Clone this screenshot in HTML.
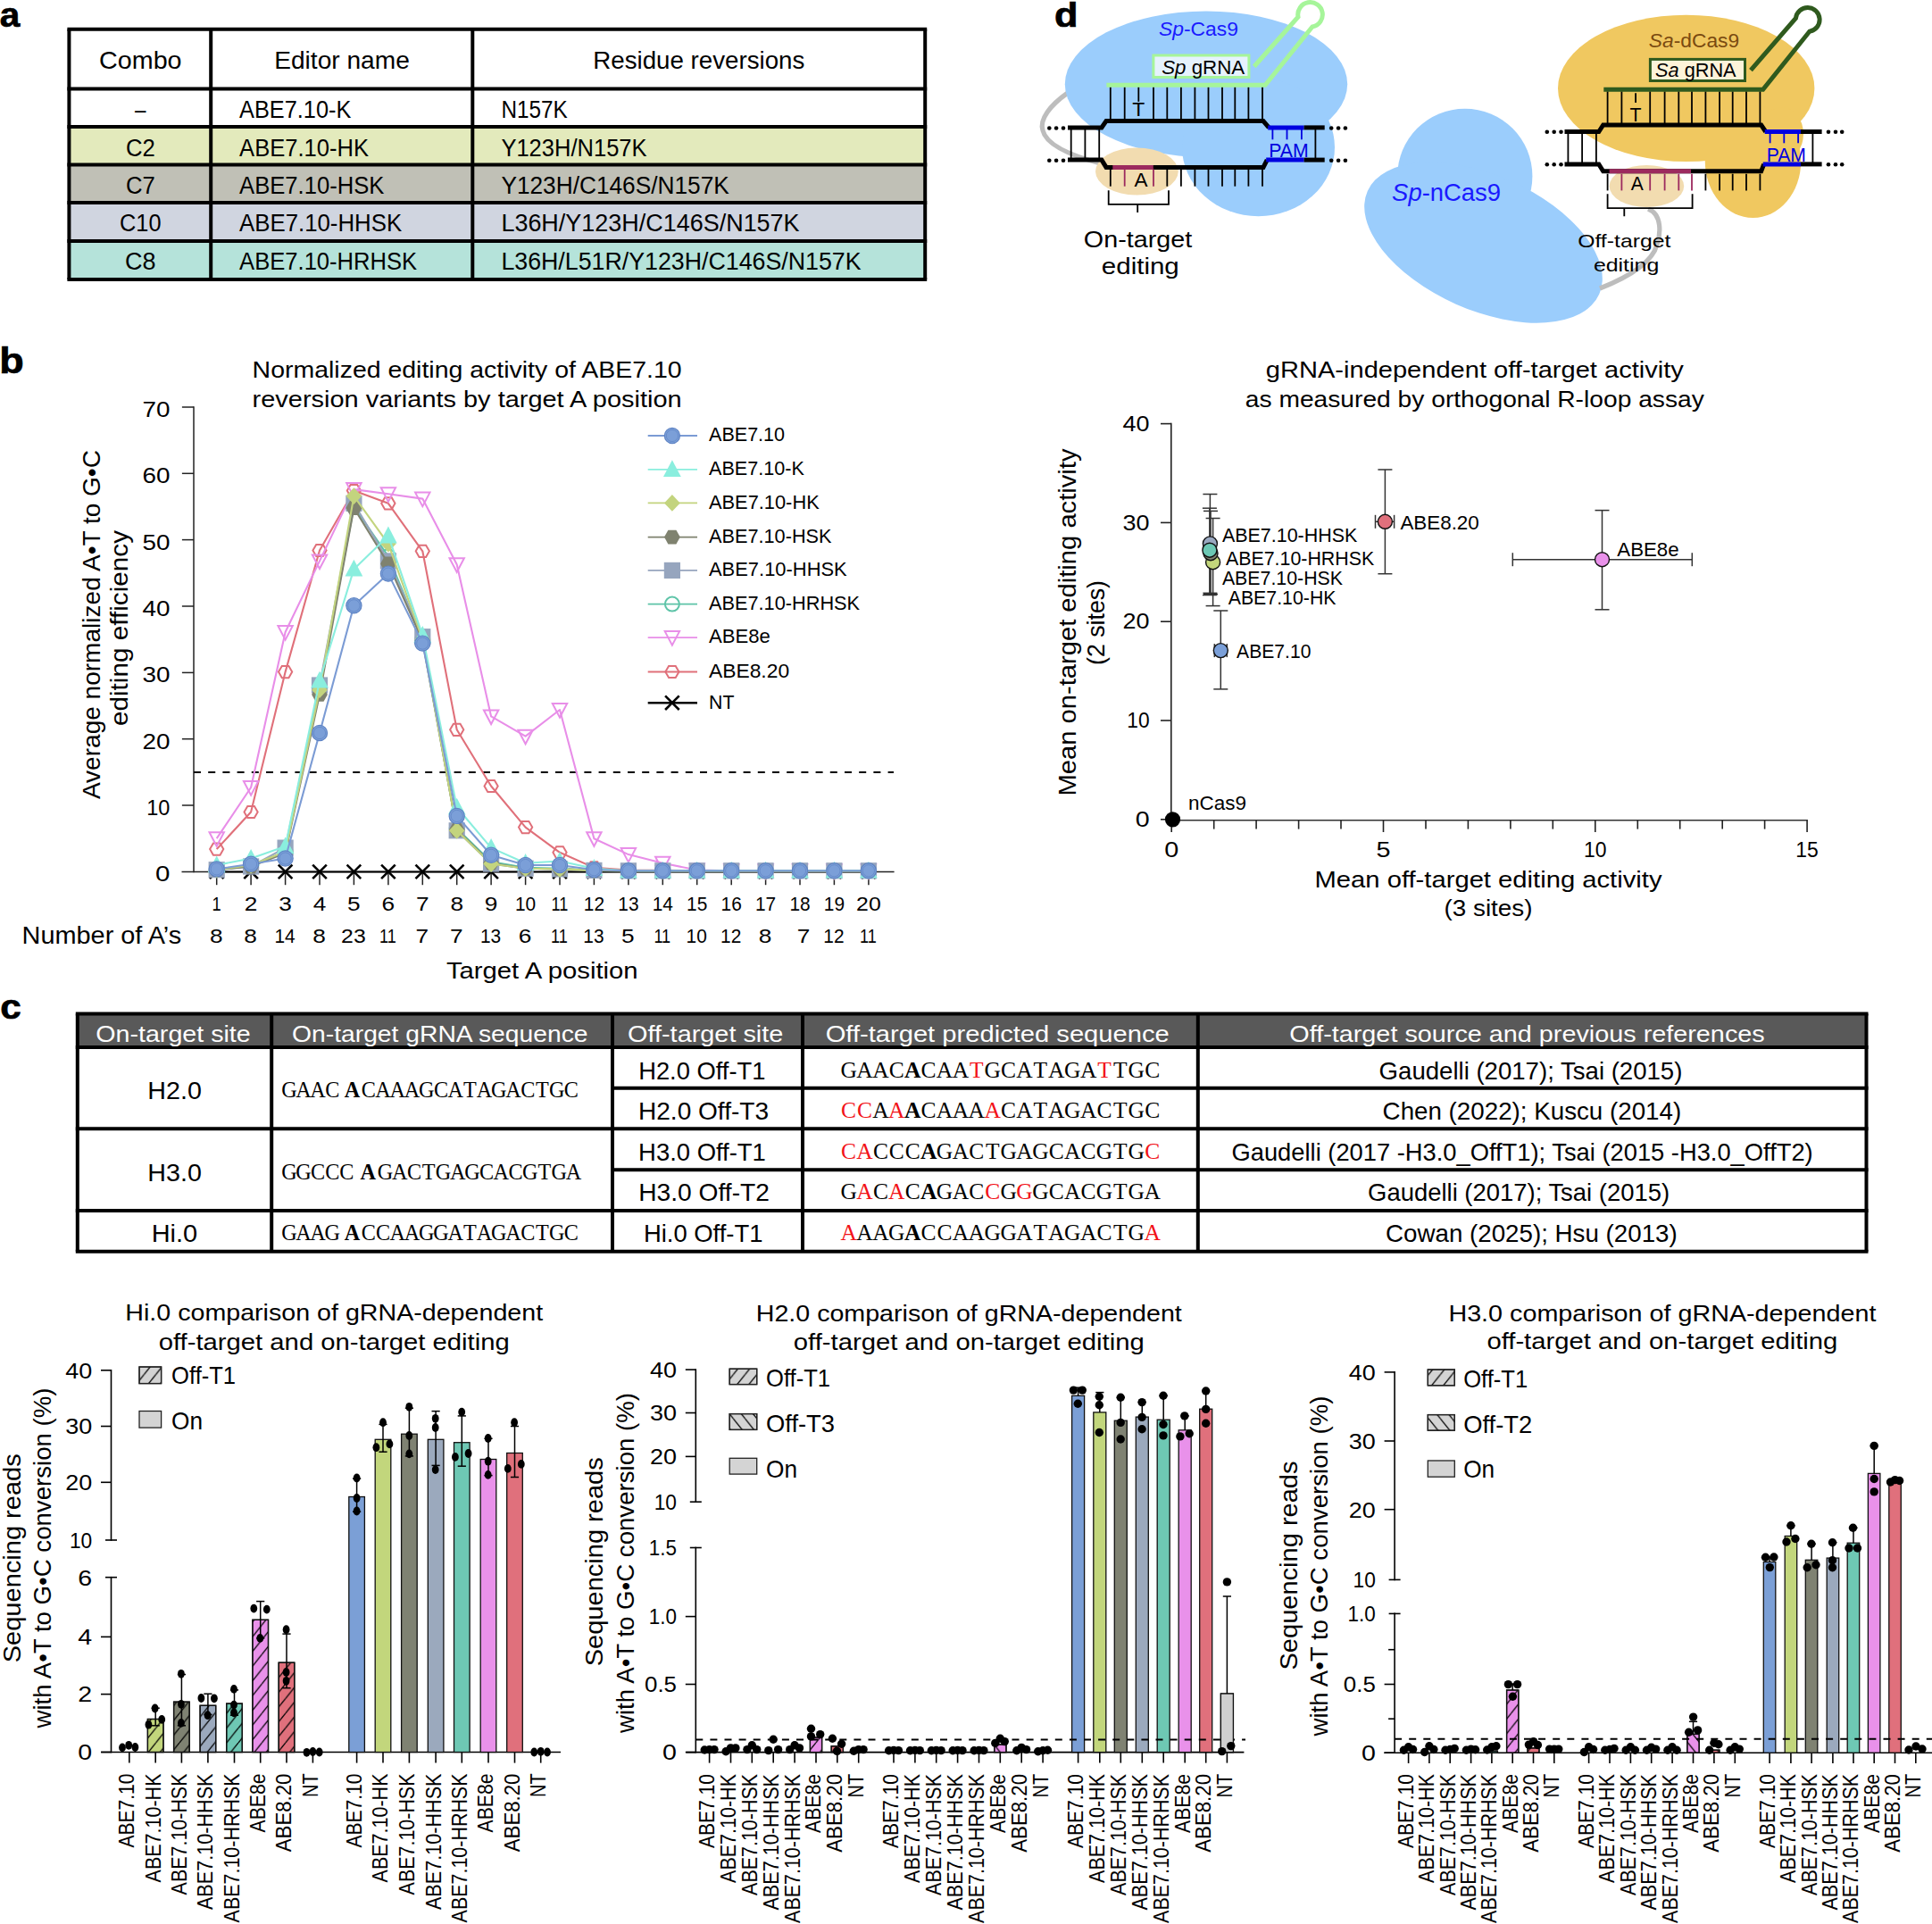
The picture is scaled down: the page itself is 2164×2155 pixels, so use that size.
<!DOCTYPE html>
<html><head><meta charset="utf-8"><title>Figure</title>
<style>html,body{margin:0;padding:0;background:#fff}svg{display:block}text{font-family:"Liberation Sans", sans-serif}</style>
</head><body>
<svg width="2164" height="2155" viewBox="0 0 2164 2155">
<rect width="2164" height="2155" fill="#fff"/>
<defs><pattern id="h1" width="13.2" height="16.5" patternUnits="userSpaceOnUse" x="3" y="5"><line x1="0.00" y1="16.50" x2="13.20" y2="0.00" stroke="#000" stroke-width="1.3"/><line x1="-13.20" y1="16.50" x2="0.00" y2="0.00" stroke="#000" stroke-width="1.3"/><line x1="13.20" y1="16.50" x2="26.40" y2="0.00" stroke="#000" stroke-width="1.3"/></pattern><pattern id="h2" width="13.2" height="16.5" patternUnits="userSpaceOnUse" x="3" y="5"><line x1="0.00" y1="0.00" x2="13.20" y2="16.50" stroke="#000" stroke-width="1.3"/><line x1="-13.20" y1="0.00" x2="0.00" y2="16.50" stroke="#000" stroke-width="1.3"/><line x1="13.20" y1="0.00" x2="26.40" y2="16.50" stroke="#000" stroke-width="1.3"/></pattern></defs>
<text x="-0.3" y="30.3" font-size="39" textLength="22.5" lengthAdjust="spacingAndGlyphs" font-weight="bold" stroke="#000" stroke-width="0.7">a</text>
<rect x="77.4" y="142.0" width="958.8" height="42.6" fill="#e3eabc" />
<rect x="77.4" y="184.6" width="958.8" height="42.4" fill="#c0c0b6" />
<rect x="77.4" y="227.0" width="958.8" height="43.1" fill="#d0d5e0" />
<rect x="77.4" y="270.1" width="958.8" height="42.9" fill="#b5e3da" />
<line x1="75.4" y1="32.8" x2="1038.2" y2="32.8" stroke="#000" stroke-width="4" />
<line x1="75.4" y1="99.4" x2="1038.2" y2="99.4" stroke="#000" stroke-width="4" />
<line x1="75.4" y1="142.0" x2="1038.2" y2="142.0" stroke="#000" stroke-width="4" />
<line x1="75.4" y1="184.6" x2="1038.2" y2="184.6" stroke="#000" stroke-width="4" />
<line x1="75.4" y1="227.0" x2="1038.2" y2="227.0" stroke="#000" stroke-width="4" />
<line x1="75.4" y1="270.1" x2="1038.2" y2="270.1" stroke="#000" stroke-width="4" />
<line x1="75.4" y1="313.0" x2="1038.2" y2="313.0" stroke="#000" stroke-width="4" />
<line x1="77.4" y1="32.8" x2="77.4" y2="313.0" stroke="#000" stroke-width="4" />
<line x1="236.2" y1="32.8" x2="236.2" y2="313.0" stroke="#000" stroke-width="4" />
<line x1="529.3" y1="32.8" x2="529.3" y2="313.0" stroke="#000" stroke-width="4" />
<line x1="1036.2" y1="32.8" x2="1036.2" y2="313.0" stroke="#000" stroke-width="4" />
<text x="157.3" y="76.8" font-size="27.5" text-anchor="middle" textLength="92.5" lengthAdjust="spacingAndGlyphs">Combo</text>
<text x="383.0" y="76.8" font-size="27.5" text-anchor="middle" textLength="151.6" lengthAdjust="spacingAndGlyphs">Editor name</text>
<text x="782.8" y="76.8" font-size="27.5" text-anchor="middle" textLength="237.0" lengthAdjust="spacingAndGlyphs">Residue reversions</text>
<text x="157.3" y="131.9" font-size="27" text-anchor="middle" textLength="12.5" lengthAdjust="spacingAndGlyphs">–</text>
<text x="268.1" y="131.9" font-size="27" textLength="125.2" lengthAdjust="spacingAndGlyphs">ABE7.10-K</text>
<text x="561.4" y="131.9" font-size="27" textLength="74.3" lengthAdjust="spacingAndGlyphs">N157K</text>
<text x="157.3" y="174.8" font-size="27" text-anchor="middle" textLength="32.8" lengthAdjust="spacingAndGlyphs">C2</text>
<text x="268.1" y="174.8" font-size="27" textLength="144.9" lengthAdjust="spacingAndGlyphs">ABE7.10-HK</text>
<text x="561.4" y="174.8" font-size="27" textLength="163.2" lengthAdjust="spacingAndGlyphs">Y123H/N157K</text>
<text x="157.3" y="216.8" font-size="27" text-anchor="middle" textLength="32.8" lengthAdjust="spacingAndGlyphs">C7</text>
<text x="268.1" y="216.8" font-size="27" textLength="162.3" lengthAdjust="spacingAndGlyphs">ABE7.10-HSK</text>
<text x="561.4" y="216.8" font-size="27" textLength="255.4" lengthAdjust="spacingAndGlyphs">Y123H/C146S/N157K</text>
<text x="157.3" y="259.4" font-size="27" text-anchor="middle" textLength="46.4" lengthAdjust="spacingAndGlyphs">C10</text>
<text x="268.1" y="259.4" font-size="27" textLength="182.0" lengthAdjust="spacingAndGlyphs">ABE7.10-HHSK</text>
<text x="561.4" y="259.4" font-size="27" textLength="334.2" lengthAdjust="spacingAndGlyphs">L36H/Y123H/C146S/N157K</text>
<text x="157.3" y="302.3" font-size="27" text-anchor="middle" textLength="34.5" lengthAdjust="spacingAndGlyphs">C8</text>
<text x="268.1" y="302.3" font-size="27" textLength="199.1" lengthAdjust="spacingAndGlyphs">ABE7.10-HRHSK</text>
<text x="561.4" y="302.3" font-size="27" textLength="403.2" lengthAdjust="spacingAndGlyphs">L36H/L51R/Y123H/C146S/N157K</text>
<text x="1181.0" y="30.0" font-size="39" textLength="26.5" lengthAdjust="spacingAndGlyphs" font-weight="bold" stroke="#000" stroke-width="0.7">d</text>
<path d="M1196,104 C1176,118 1164,134 1168,146 C1172,164 1205,176 1236,184" fill="none" stroke="#bdbdbd" stroke-width="5.2" />
<ellipse cx="1351.0" cy="94.2" rx="158.2" ry="81.8" fill="#9bcdfc"/>
<ellipse cx="1409.5" cy="165.0" rx="85.5" ry="77.2" fill="#9bcdfc"/>
<ellipse cx="1273.4" cy="192.0" rx="46.4" ry="26.4" fill="#f2dcb0"/>
<circle cx="1640.8" cy="197.3" r="75.6" fill="#9bcdfc"/>
<ellipse cx="1661.5" cy="271.7" rx="142.0" ry="75.5" fill="#9bcdfc" transform="rotate(24 1661.5 271.7)"/>
<path d="M1846,234 C1862,240 1860,262 1856,274 C1850,296 1820,312 1792,323" fill="none" stroke="#bdbdbd" stroke-width="5.2" />
<ellipse cx="1888.7" cy="98.9" rx="143.7" ry="82.2" fill="#f0c860"/>
<ellipse cx="1963.5" cy="181.0" rx="53.7" ry="63.0" fill="#f0c860"/>
<ellipse cx="1996.0" cy="150.0" rx="24.0" ry="30.0" fill="#f0c860"/>
<ellipse cx="1844.4" cy="208.5" rx="41.8" ry="23.6" fill="#f2dcb0"/>
<path d="M1196,142.9 L1233.9,142.9 L1239,135.6 L1415,135.6 L1421.2,142.9" fill="none" stroke="#000" stroke-width="5" stroke-linejoin="miter"/>
<line x1="1420.2" y1="142.9" x2="1460.6" y2="142.9" stroke="#0000e0" stroke-width="5" />
<line x1="1460.6" y1="142.9" x2="1483.7" y2="142.9" stroke="#000" stroke-width="5" />
<path d="M1196,179.1 L1233.9,179.1 L1239,187.4 L1415,187.4 L1419.2,179.1" fill="none" stroke="#000" stroke-width="5" stroke-linejoin="miter"/>
<line x1="1246.3" y1="187.4" x2="1291.8" y2="187.4" stroke="#9c2a5e" stroke-width="5" />
<line x1="1418.2" y1="179.1" x2="1460.6" y2="179.1" stroke="#0000e0" stroke-width="5" />
<line x1="1460.6" y1="179.1" x2="1483.7" y2="179.1" stroke="#000" stroke-width="5" />
<circle cx="1175.3" cy="143.5" r="2.3" fill="#000"/>
<circle cx="1175.3" cy="179.7" r="2.3" fill="#000"/>
<circle cx="1183.1" cy="143.5" r="2.3" fill="#000"/>
<circle cx="1183.1" cy="179.7" r="2.3" fill="#000"/>
<circle cx="1191.0" cy="143.5" r="2.3" fill="#000"/>
<circle cx="1191.0" cy="179.7" r="2.3" fill="#000"/>
<circle cx="1491.2" cy="143.5" r="2.3" fill="#000"/>
<circle cx="1491.2" cy="179.7" r="2.3" fill="#000"/>
<circle cx="1499.1" cy="143.5" r="2.3" fill="#000"/>
<circle cx="1499.1" cy="179.7" r="2.3" fill="#000"/>
<circle cx="1506.9" cy="143.5" r="2.3" fill="#000"/>
<circle cx="1506.9" cy="179.7" r="2.3" fill="#000"/>
<line x1="1199.7" y1="142.9" x2="1199.7" y2="179.1" stroke="#000" stroke-width="1.8" />
<line x1="1215.4" y1="142.9" x2="1215.4" y2="179.1" stroke="#000" stroke-width="1.8" />
<line x1="1231.2" y1="142.9" x2="1231.2" y2="179.1" stroke="#000" stroke-width="1.8" />
<line x1="1473.4" y1="142.9" x2="1473.4" y2="179.1" stroke="#000" stroke-width="1.8" />
<line x1="1243.8" y1="97.3" x2="1243.8" y2="134.0" stroke="#000" stroke-width="1.8" />
<line x1="1259.7" y1="97.3" x2="1259.7" y2="134.0" stroke="#000" stroke-width="1.8" />
<line x1="1275.3" y1="97.3" x2="1275.3" y2="113.9" stroke="#000" stroke-width="1.8" />
<line x1="1292.0" y1="97.3" x2="1292.0" y2="134.0" stroke="#000" stroke-width="1.8" />
<line x1="1307.3" y1="97.3" x2="1307.3" y2="134.0" stroke="#000" stroke-width="1.8" />
<line x1="1322.9" y1="97.3" x2="1322.9" y2="134.0" stroke="#000" stroke-width="1.8" />
<line x1="1338.4" y1="97.3" x2="1338.4" y2="134.0" stroke="#000" stroke-width="1.8" />
<line x1="1353.5" y1="97.3" x2="1353.5" y2="134.0" stroke="#000" stroke-width="1.8" />
<line x1="1369.0" y1="97.3" x2="1369.0" y2="134.0" stroke="#000" stroke-width="1.8" />
<line x1="1383.3" y1="97.3" x2="1383.3" y2="134.0" stroke="#000" stroke-width="1.8" />
<line x1="1398.4" y1="97.3" x2="1398.4" y2="134.0" stroke="#000" stroke-width="1.8" />
<line x1="1414.0" y1="97.3" x2="1414.0" y2="134.0" stroke="#000" stroke-width="1.8" />
<text x="1275.3" y="130.4" font-size="21.5" text-anchor="middle" textLength="14.0" lengthAdjust="spacingAndGlyphs">T</text>
<line x1="1243.8" y1="189.4" x2="1243.8" y2="208.7" stroke="#000" stroke-width="1.8" />
<line x1="1259.7" y1="189.4" x2="1259.7" y2="208.7" stroke="#9c2a5e" stroke-width="1.8" />
<line x1="1292.0" y1="189.4" x2="1292.0" y2="208.7" stroke="#9c2a5e" stroke-width="1.8" />
<line x1="1307.3" y1="189.4" x2="1307.3" y2="208.7" stroke="#000" stroke-width="1.8" />
<line x1="1322.9" y1="189.4" x2="1322.9" y2="208.7" stroke="#000" stroke-width="1.8" />
<line x1="1338.4" y1="189.4" x2="1338.4" y2="208.7" stroke="#000" stroke-width="1.8" />
<line x1="1353.5" y1="189.4" x2="1353.5" y2="208.7" stroke="#000" stroke-width="1.8" />
<line x1="1369.0" y1="189.4" x2="1369.0" y2="208.7" stroke="#000" stroke-width="1.8" />
<line x1="1383.3" y1="189.4" x2="1383.3" y2="208.7" stroke="#000" stroke-width="1.8" />
<line x1="1398.4" y1="189.4" x2="1398.4" y2="208.7" stroke="#000" stroke-width="1.8" />
<line x1="1414.0" y1="189.4" x2="1414.0" y2="208.7" stroke="#000" stroke-width="1.8" />
<text x="1278.0" y="209.1" font-size="21.5" text-anchor="middle" textLength="15.0" lengthAdjust="spacingAndGlyphs">A</text>
<path d="M1239.4,95.2 L1417.1,95.2 L1469.9,30 A13.8,13.8 0 1 0 1454.0,19.0 L1404.7,74.5" fill="none" stroke="#a6f59a" stroke-width="5" stroke-linejoin="miter"/>
<rect x="1291.9" y="62.0" width="107.0" height="24.5" fill="#e6f2fd" stroke="#a6f59a" stroke-width="3" />
<text x="1347.7" y="83.0" font-size="21.5" text-anchor="middle" textLength="93.0" lengthAdjust="spacingAndGlyphs"><tspan font-style="italic">Sp</tspan> gRNA</text>
<text x="1342.5" y="40.4" font-size="21.5" text-anchor="middle" textLength="89.0" lengthAdjust="spacingAndGlyphs" fill="#1a1aff"><tspan font-style="italic">Sp</tspan>-Cas9</text>
<line x1="1425.4" y1="145.0" x2="1425.4" y2="156.3" stroke="#0000e0" stroke-width="1.8" />
<line x1="1441.5" y1="145.0" x2="1441.5" y2="156.3" stroke="#0000e0" stroke-width="1.8" />
<line x1="1457.9" y1="145.0" x2="1457.9" y2="156.3" stroke="#0000e0" stroke-width="1.8" />
<text x="1443.5" y="176.0" font-size="21.5" text-anchor="middle" textLength="44.5" lengthAdjust="spacingAndGlyphs" fill="#0000e0">PAM</text>
<path d="M1241.7,213.3 L1241.7,228.8 L1309,228.8 L1309,213.3 M1274.2,228.8 L1274.2,238.1" fill="none" stroke="#000" stroke-width="1.8" />
<text x="1274.5" y="277.2" font-size="26" text-anchor="middle" textLength="121.3" lengthAdjust="spacingAndGlyphs">On-target</text>
<text x="1277.3" y="307.2" font-size="26" text-anchor="middle" textLength="87.0" lengthAdjust="spacingAndGlyphs">editing</text>
<text x="1620.1" y="225.1" font-size="27.7" text-anchor="middle" textLength="122.0" lengthAdjust="spacingAndGlyphs" fill="#1a1aff"><tspan font-style="italic">Sp</tspan>-nCas9</text>
<path d="M1752.5,147.5 L1790.8,147.5 L1795.7,140.0 L1972.7,140.0 L1977.7,147.5" fill="none" stroke="#000" stroke-width="5" stroke-linejoin="miter"/>
<line x1="1976.7" y1="147.5" x2="2017.0" y2="147.5" stroke="#0000e0" stroke-width="5" />
<line x1="2017.0" y1="147.5" x2="2040.6" y2="147.5" stroke="#000" stroke-width="5" />
<path d="M1752.5,183.9 L1790.8,183.9 L1795.7,191.8 L1972.7,191.8 L1975.7,183.9" fill="none" stroke="#000" stroke-width="5" stroke-linejoin="miter"/>
<line x1="1802.6" y1="191.8" x2="1894.0" y2="191.8" stroke="#9c2a5e" stroke-width="5" />
<line x1="1974.7" y1="183.9" x2="2017.0" y2="183.9" stroke="#0000e0" stroke-width="5" />
<line x1="2017.0" y1="183.9" x2="2040.6" y2="183.9" stroke="#000" stroke-width="5" />
<circle cx="1732.8" cy="147.8" r="2.3" fill="#000"/>
<circle cx="1732.8" cy="184.2" r="2.3" fill="#000"/>
<circle cx="1740.7" cy="147.8" r="2.3" fill="#000"/>
<circle cx="1740.7" cy="184.2" r="2.3" fill="#000"/>
<circle cx="1748.5" cy="147.8" r="2.3" fill="#000"/>
<circle cx="1748.5" cy="184.2" r="2.3" fill="#000"/>
<circle cx="2048.0" cy="147.8" r="2.3" fill="#000"/>
<circle cx="2048.0" cy="184.2" r="2.3" fill="#000"/>
<circle cx="2056.0" cy="147.8" r="2.3" fill="#000"/>
<circle cx="2056.0" cy="184.2" r="2.3" fill="#000"/>
<circle cx="2063.2" cy="147.8" r="2.3" fill="#000"/>
<circle cx="2063.2" cy="184.2" r="2.3" fill="#000"/>
<line x1="1756.4" y1="147.5" x2="1756.4" y2="183.9" stroke="#000" stroke-width="1.8" />
<line x1="1772.1" y1="147.5" x2="1772.1" y2="183.9" stroke="#000" stroke-width="1.8" />
<line x1="1787.9" y1="147.5" x2="1787.9" y2="183.9" stroke="#000" stroke-width="1.8" />
<line x1="2030.4" y1="147.5" x2="2030.4" y2="183.9" stroke="#000" stroke-width="1.8" />
<line x1="1800.6" y1="102.3" x2="1800.6" y2="138.5" stroke="#000" stroke-width="1.8" />
<line x1="1816.4" y1="102.3" x2="1816.4" y2="138.5" stroke="#000" stroke-width="1.8" />
<line x1="1832.1" y1="104.2" x2="1832.1" y2="115.0" stroke="#000" stroke-width="1.8" />
<line x1="1848.2" y1="102.3" x2="1848.2" y2="138.5" stroke="#000" stroke-width="1.8" />
<line x1="1864.6" y1="102.3" x2="1864.6" y2="138.5" stroke="#000" stroke-width="1.8" />
<line x1="1880.3" y1="102.3" x2="1880.3" y2="138.5" stroke="#000" stroke-width="1.8" />
<line x1="1895.0" y1="102.3" x2="1895.0" y2="138.5" stroke="#000" stroke-width="1.8" />
<line x1="1910.4" y1="102.3" x2="1910.4" y2="138.5" stroke="#000" stroke-width="1.8" />
<line x1="1926.1" y1="102.3" x2="1926.1" y2="138.5" stroke="#000" stroke-width="1.8" />
<line x1="1940.7" y1="102.3" x2="1940.7" y2="138.5" stroke="#000" stroke-width="1.8" />
<line x1="1956.0" y1="102.3" x2="1956.0" y2="138.5" stroke="#000" stroke-width="1.8" />
<line x1="1971.4" y1="102.3" x2="1971.4" y2="138.5" stroke="#000" stroke-width="1.8" />
<text x="1832.1" y="135.7" font-size="21.5" text-anchor="middle" textLength="13.0" lengthAdjust="spacingAndGlyphs">T</text>
<line x1="1800.6" y1="194.7" x2="1800.6" y2="213.4" stroke="#000" stroke-width="1.8" />
<line x1="1816.4" y1="194.7" x2="1816.4" y2="213.4" stroke="#9c2a5e" stroke-width="1.8" />
<line x1="1848.2" y1="194.7" x2="1848.2" y2="213.4" stroke="#9c2a5e" stroke-width="1.8" />
<line x1="1864.6" y1="194.7" x2="1864.6" y2="213.4" stroke="#9c2a5e" stroke-width="1.8" />
<line x1="1880.3" y1="194.7" x2="1880.3" y2="213.4" stroke="#9c2a5e" stroke-width="1.8" />
<line x1="1895.0" y1="194.7" x2="1895.0" y2="213.4" stroke="#9c2a5e" stroke-width="1.8" />
<line x1="1910.4" y1="194.7" x2="1910.4" y2="213.4" stroke="#000" stroke-width="1.8" />
<line x1="1926.1" y1="194.7" x2="1926.1" y2="213.4" stroke="#000" stroke-width="1.8" />
<line x1="1940.7" y1="194.7" x2="1940.7" y2="213.4" stroke="#000" stroke-width="1.8" />
<line x1="1956.0" y1="194.7" x2="1956.0" y2="213.4" stroke="#000" stroke-width="1.8" />
<line x1="1971.4" y1="194.7" x2="1971.4" y2="213.4" stroke="#000" stroke-width="1.8" />
<text x="1833.7" y="213.4" font-size="21.5" text-anchor="middle" textLength="14.0" lengthAdjust="spacingAndGlyphs">A</text>
<path d="M1796.3,100.3 L1974.7,100.3 L2026.8,35.2 A13.4,13.4 0 1 0 2011.4,20.5 L1961,78.7" fill="none" stroke="#2f5a1e" stroke-width="5" stroke-linejoin="miter"/>
<rect x="1848.4" y="66.4" width="106.1" height="24.1" fill="#fdf3d9" stroke="#2f5a1e" stroke-width="3" />
<text x="1899.3" y="86.4" font-size="21.5" text-anchor="middle" textLength="90.5" lengthAdjust="spacingAndGlyphs"><tspan font-style="italic">Sa</tspan> gRNA</text>
<text x="1897.5" y="52.7" font-size="21.5" text-anchor="middle" textLength="101.3" lengthAdjust="spacingAndGlyphs" fill="#7a4a10"><tspan font-style="italic">Sa</tspan>-dCas9</text>
<line x1="1982.6" y1="149.5" x2="1982.6" y2="160.3" stroke="#0000e0" stroke-width="1.8" />
<line x1="1998.3" y1="149.5" x2="1998.3" y2="160.3" stroke="#0000e0" stroke-width="1.8" />
<line x1="2014.1" y1="149.5" x2="2014.1" y2="160.3" stroke="#0000e0" stroke-width="1.8" />
<text x="2000.8" y="180.6" font-size="21.5" text-anchor="middle" textLength="44.2" lengthAdjust="spacingAndGlyphs" fill="#0000e0">PAM</text>
<path d="M1800.6,217.3 L1800.6,233.1 L1895.6,233.1 L1895.6,217.3 M1819.3,233.1 L1819.3,242.3" fill="none" stroke="#000" stroke-width="1.8" />
<text x="1819.3" y="277.3" font-size="20.7" text-anchor="middle" textLength="104.3" lengthAdjust="spacingAndGlyphs">Off-target</text>
<text x="1821.6" y="303.9" font-size="20.7" text-anchor="middle" textLength="73.4" lengthAdjust="spacingAndGlyphs">editing</text>
<text x="-0.8" y="417.7" font-size="40" textLength="27.5" lengthAdjust="spacingAndGlyphs" font-weight="bold" stroke="#000" stroke-width="0.7">b</text>
<text x="523.1" y="423.0" font-size="25.5" text-anchor="middle" textLength="481.0" lengthAdjust="spacingAndGlyphs">Normalized editing activity of ABE7.10</text>
<text x="523.1" y="455.6" font-size="25.5" text-anchor="middle" textLength="481.0" lengthAdjust="spacingAndGlyphs">reversion variants by target A position</text>
<line x1="217.0" y1="455.2" x2="217.0" y2="977.2" stroke="#222" stroke-width="1.5" />
<line x1="203.5" y1="976.4" x2="1001.6" y2="976.4" stroke="#222" stroke-width="1.5" />
<text x="190.4" y="987.4" font-size="24.7" text-anchor="end" textLength="16.4" lengthAdjust="spacingAndGlyphs">0</text>
<line x1="203.9" y1="902.0" x2="217.0" y2="902.0" stroke="#222" stroke-width="1.5" />
<text x="190.4" y="913.0" font-size="24.7" text-anchor="end" textLength="26.1" lengthAdjust="spacingAndGlyphs">10</text>
<line x1="203.9" y1="827.7" x2="217.0" y2="827.7" stroke="#222" stroke-width="1.5" />
<text x="190.4" y="838.7" font-size="24.7" text-anchor="end" textLength="31.0" lengthAdjust="spacingAndGlyphs">20</text>
<line x1="203.9" y1="753.4" x2="217.0" y2="753.4" stroke="#222" stroke-width="1.5" />
<text x="190.4" y="764.4" font-size="24.7" text-anchor="end" textLength="31.0" lengthAdjust="spacingAndGlyphs">30</text>
<line x1="203.9" y1="679.0" x2="217.0" y2="679.0" stroke="#222" stroke-width="1.5" />
<text x="190.4" y="690.0" font-size="24.7" text-anchor="end" textLength="31.0" lengthAdjust="spacingAndGlyphs">40</text>
<line x1="203.9" y1="604.6" x2="217.0" y2="604.6" stroke="#222" stroke-width="1.5" />
<text x="190.4" y="615.6" font-size="24.7" text-anchor="end" textLength="31.0" lengthAdjust="spacingAndGlyphs">50</text>
<line x1="203.9" y1="530.3" x2="217.0" y2="530.3" stroke="#222" stroke-width="1.5" />
<text x="190.4" y="541.3" font-size="24.7" text-anchor="end" textLength="31.0" lengthAdjust="spacingAndGlyphs">60</text>
<line x1="203.9" y1="456.0" x2="217.0" y2="456.0" stroke="#222" stroke-width="1.5" />
<text x="190.4" y="467.0" font-size="24.7" text-anchor="end" textLength="31.0" lengthAdjust="spacingAndGlyphs">70</text>
<line x1="242.7" y1="976.4" x2="242.7" y2="991.2" stroke="#222" stroke-width="1.5" />
<line x1="281.1" y1="976.4" x2="281.1" y2="991.2" stroke="#222" stroke-width="1.5" />
<line x1="319.6" y1="976.4" x2="319.6" y2="991.2" stroke="#222" stroke-width="1.5" />
<line x1="358.0" y1="976.4" x2="358.0" y2="991.2" stroke="#222" stroke-width="1.5" />
<line x1="396.4" y1="976.4" x2="396.4" y2="991.2" stroke="#222" stroke-width="1.5" />
<line x1="434.9" y1="976.4" x2="434.9" y2="991.2" stroke="#222" stroke-width="1.5" />
<line x1="473.3" y1="976.4" x2="473.3" y2="991.2" stroke="#222" stroke-width="1.5" />
<line x1="511.7" y1="976.4" x2="511.7" y2="991.2" stroke="#222" stroke-width="1.5" />
<line x1="550.1" y1="976.4" x2="550.1" y2="991.2" stroke="#222" stroke-width="1.5" />
<line x1="588.6" y1="976.4" x2="588.6" y2="991.2" stroke="#222" stroke-width="1.5" />
<line x1="627.0" y1="976.4" x2="627.0" y2="991.2" stroke="#222" stroke-width="1.5" />
<line x1="665.4" y1="976.4" x2="665.4" y2="991.2" stroke="#222" stroke-width="1.5" />
<line x1="703.9" y1="976.4" x2="703.9" y2="991.2" stroke="#222" stroke-width="1.5" />
<line x1="742.3" y1="976.4" x2="742.3" y2="991.2" stroke="#222" stroke-width="1.5" />
<line x1="780.7" y1="976.4" x2="780.7" y2="991.2" stroke="#222" stroke-width="1.5" />
<line x1="819.2" y1="976.4" x2="819.2" y2="991.2" stroke="#222" stroke-width="1.5" />
<line x1="857.6" y1="976.4" x2="857.6" y2="991.2" stroke="#222" stroke-width="1.5" />
<line x1="896.0" y1="976.4" x2="896.0" y2="991.2" stroke="#222" stroke-width="1.5" />
<line x1="934.4" y1="976.4" x2="934.4" y2="991.2" stroke="#222" stroke-width="1.5" />
<line x1="972.9" y1="976.4" x2="972.9" y2="991.2" stroke="#222" stroke-width="1.5" />
<line x1="217.0" y1="864.9" x2="1001.0" y2="864.9" stroke="#000" stroke-width="2.0" stroke-dasharray="8 8.2"/>
<polyline points="242.7,976.4 281.1,976.4 319.6,976.4 358.0,976.4 396.4,976.4 434.9,976.4 473.3,976.4 511.7,976.4 550.1,976.4 588.6,976.4 627.0,976.4 665.4,976.4 703.9,976.4 742.3,976.4 780.7,976.4 819.2,976.4 857.6,976.4 896.0,976.4 934.4,976.4 972.9,976.4" fill="none" stroke="#000" stroke-width="2.0" stroke-linejoin="round"/>
<line x1="234.9" y1="968.6" x2="250.5" y2="984.2" stroke="#000" stroke-width="2.6" />
<line x1="234.9" y1="984.2" x2="250.5" y2="968.6" stroke="#000" stroke-width="2.6" />
<line x1="273.3" y1="968.6" x2="288.9" y2="984.2" stroke="#000" stroke-width="2.6" />
<line x1="273.3" y1="984.2" x2="288.9" y2="968.6" stroke="#000" stroke-width="2.6" />
<line x1="311.8" y1="968.6" x2="327.4" y2="984.2" stroke="#000" stroke-width="2.6" />
<line x1="311.8" y1="984.2" x2="327.4" y2="968.6" stroke="#000" stroke-width="2.6" />
<line x1="350.2" y1="968.6" x2="365.8" y2="984.2" stroke="#000" stroke-width="2.6" />
<line x1="350.2" y1="984.2" x2="365.8" y2="968.6" stroke="#000" stroke-width="2.6" />
<line x1="388.6" y1="968.6" x2="404.2" y2="984.2" stroke="#000" stroke-width="2.6" />
<line x1="388.6" y1="984.2" x2="404.2" y2="968.6" stroke="#000" stroke-width="2.6" />
<line x1="427.1" y1="968.6" x2="442.7" y2="984.2" stroke="#000" stroke-width="2.6" />
<line x1="427.1" y1="984.2" x2="442.7" y2="968.6" stroke="#000" stroke-width="2.6" />
<line x1="465.5" y1="968.6" x2="481.1" y2="984.2" stroke="#000" stroke-width="2.6" />
<line x1="465.5" y1="984.2" x2="481.1" y2="968.6" stroke="#000" stroke-width="2.6" />
<line x1="503.9" y1="968.6" x2="519.5" y2="984.2" stroke="#000" stroke-width="2.6" />
<line x1="503.9" y1="984.2" x2="519.5" y2="968.6" stroke="#000" stroke-width="2.6" />
<line x1="542.3" y1="968.6" x2="557.9" y2="984.2" stroke="#000" stroke-width="2.6" />
<line x1="542.3" y1="984.2" x2="557.9" y2="968.6" stroke="#000" stroke-width="2.6" />
<line x1="580.8" y1="968.6" x2="596.4" y2="984.2" stroke="#000" stroke-width="2.6" />
<line x1="580.8" y1="984.2" x2="596.4" y2="968.6" stroke="#000" stroke-width="2.6" />
<line x1="619.2" y1="968.6" x2="634.8" y2="984.2" stroke="#000" stroke-width="2.6" />
<line x1="619.2" y1="984.2" x2="634.8" y2="968.6" stroke="#000" stroke-width="2.6" />
<line x1="657.6" y1="968.6" x2="673.2" y2="984.2" stroke="#000" stroke-width="2.6" />
<line x1="657.6" y1="984.2" x2="673.2" y2="968.6" stroke="#000" stroke-width="2.6" />
<line x1="696.1" y1="968.6" x2="711.7" y2="984.2" stroke="#000" stroke-width="2.6" />
<line x1="696.1" y1="984.2" x2="711.7" y2="968.6" stroke="#000" stroke-width="2.6" />
<line x1="734.5" y1="968.6" x2="750.1" y2="984.2" stroke="#000" stroke-width="2.6" />
<line x1="734.5" y1="984.2" x2="750.1" y2="968.6" stroke="#000" stroke-width="2.6" />
<line x1="772.9" y1="968.6" x2="788.5" y2="984.2" stroke="#000" stroke-width="2.6" />
<line x1="772.9" y1="984.2" x2="788.5" y2="968.6" stroke="#000" stroke-width="2.6" />
<line x1="811.4" y1="968.6" x2="827.0" y2="984.2" stroke="#000" stroke-width="2.6" />
<line x1="811.4" y1="984.2" x2="827.0" y2="968.6" stroke="#000" stroke-width="2.6" />
<line x1="849.8" y1="968.6" x2="865.4" y2="984.2" stroke="#000" stroke-width="2.6" />
<line x1="849.8" y1="984.2" x2="865.4" y2="968.6" stroke="#000" stroke-width="2.6" />
<line x1="888.2" y1="968.6" x2="903.8" y2="984.2" stroke="#000" stroke-width="2.6" />
<line x1="888.2" y1="984.2" x2="903.8" y2="968.6" stroke="#000" stroke-width="2.6" />
<line x1="926.6" y1="968.6" x2="942.2" y2="984.2" stroke="#000" stroke-width="2.6" />
<line x1="926.6" y1="984.2" x2="942.2" y2="968.6" stroke="#000" stroke-width="2.6" />
<line x1="965.1" y1="968.6" x2="980.7" y2="984.2" stroke="#000" stroke-width="2.6" />
<line x1="965.1" y1="984.2" x2="980.7" y2="968.6" stroke="#000" stroke-width="2.6" />
<polyline points="242.7,951.1 281.1,909.5 319.6,752.6 358.0,616.5 396.4,549.6 434.9,563.8 473.3,617.3 511.7,817.3 550.1,880.5 588.6,926.6 627.0,954.8 665.4,971.9 703.9,974.5 742.3,974.9 780.7,975.3 819.2,975.3 857.6,975.3 896.0,975.3 934.4,975.3 972.9,975.3" fill="none" stroke="#e0707a" stroke-width="2.1" stroke-linejoin="round"/>
<path d="M235.1,951.1 L238.9,944.5 L246.5,944.5 L250.3,951.1 L246.5,957.7 L238.9,957.7 Z" fill="none" stroke="#e0707a" stroke-width="2.0" />
<path d="M273.5,909.5 L277.3,902.9 L284.9,902.9 L288.7,909.5 L284.9,916.1 L277.3,916.1 Z" fill="none" stroke="#e0707a" stroke-width="2.0" />
<path d="M312.0,752.6 L315.8,746.0 L323.4,746.0 L327.2,752.6 L323.4,759.2 L315.8,759.2 Z" fill="none" stroke="#e0707a" stroke-width="2.0" />
<path d="M350.4,616.5 L354.2,609.9 L361.8,609.9 L365.6,616.5 L361.8,623.1 L354.2,623.1 Z" fill="none" stroke="#e0707a" stroke-width="2.0" />
<path d="M388.8,549.6 L392.6,543.0 L400.2,543.0 L404.0,549.6 L400.2,556.2 L392.6,556.2 Z" fill="none" stroke="#e0707a" stroke-width="2.0" />
<path d="M427.2,563.8 L431.1,557.2 L438.7,557.2 L442.5,563.8 L438.7,570.4 L431.1,570.4 Z" fill="none" stroke="#e0707a" stroke-width="2.0" />
<path d="M465.7,617.3 L469.5,610.7 L477.1,610.7 L480.9,617.3 L477.1,623.9 L469.5,623.9 Z" fill="none" stroke="#e0707a" stroke-width="2.0" />
<path d="M504.1,817.3 L507.9,810.7 L515.5,810.7 L519.3,817.3 L515.5,823.9 L507.9,823.9 Z" fill="none" stroke="#e0707a" stroke-width="2.0" />
<path d="M542.5,880.5 L546.3,873.9 L553.9,873.9 L557.7,880.5 L553.9,887.1 L546.3,887.1 Z" fill="none" stroke="#e0707a" stroke-width="2.0" />
<path d="M581.0,926.6 L584.8,920.0 L592.4,920.0 L596.2,926.6 L592.4,933.2 L584.8,933.2 Z" fill="none" stroke="#e0707a" stroke-width="2.0" />
<path d="M619.4,954.8 L623.2,948.2 L630.8,948.2 L634.6,954.8 L630.8,961.4 L623.2,961.4 Z" fill="none" stroke="#e0707a" stroke-width="2.0" />
<path d="M657.8,971.9 L661.6,965.3 L669.2,965.3 L673.0,971.9 L669.2,978.5 L661.6,978.5 Z" fill="none" stroke="#e0707a" stroke-width="2.0" />
<path d="M696.3,974.5 L700.1,967.9 L707.7,967.9 L711.5,974.5 L707.7,981.1 L700.1,981.1 Z" fill="none" stroke="#e0707a" stroke-width="2.0" />
<path d="M734.7,974.9 L738.5,968.3 L746.1,968.3 L749.9,974.9 L746.1,981.5 L738.5,981.5 Z" fill="none" stroke="#e0707a" stroke-width="2.0" />
<path d="M773.1,975.3 L776.9,968.7 L784.5,968.7 L788.3,975.3 L784.5,981.9 L776.9,981.9 Z" fill="none" stroke="#e0707a" stroke-width="2.0" />
<path d="M811.6,975.3 L815.4,968.7 L823.0,968.7 L826.8,975.3 L823.0,981.9 L815.4,981.9 Z" fill="none" stroke="#e0707a" stroke-width="2.0" />
<path d="M850.0,975.3 L853.8,968.7 L861.4,968.7 L865.2,975.3 L861.4,981.9 L853.8,981.9 Z" fill="none" stroke="#e0707a" stroke-width="2.0" />
<path d="M888.4,975.3 L892.2,968.7 L899.8,968.7 L903.6,975.3 L899.8,981.9 L892.2,981.9 Z" fill="none" stroke="#e0707a" stroke-width="2.0" />
<path d="M926.8,975.3 L930.6,968.7 L938.2,968.7 L942.0,975.3 L938.2,981.9 L930.6,981.9 Z" fill="none" stroke="#e0707a" stroke-width="2.0" />
<path d="M965.3,975.3 L969.1,968.7 L976.7,968.7 L980.5,975.3 L976.7,981.9 L969.1,981.9 Z" fill="none" stroke="#e0707a" stroke-width="2.0" />
<polyline points="242.7,939.2 281.1,882.0 319.6,708.0 358.0,628.4 396.4,548.1 434.9,553.3 473.3,558.6 511.7,632.2 550.1,802.4 588.6,824.7 627.0,795.0 665.4,939.2 703.9,957.1 742.3,966.7 780.7,974.5 819.2,975.3 857.6,975.3 896.0,975.3 934.4,975.3 972.9,975.3" fill="none" stroke="#e88ee8" stroke-width="2.1" stroke-linejoin="round"/>
<path d="M234.5,932.2 L250.9,932.2 L242.7,947.8 Z" fill="none" stroke="#e88ee8" stroke-width="2.0" />
<path d="M272.9,875.0 L289.3,875.0 L281.1,890.6 Z" fill="none" stroke="#e88ee8" stroke-width="2.0" />
<path d="M311.4,701.0 L327.8,701.0 L319.6,716.6 Z" fill="none" stroke="#e88ee8" stroke-width="2.0" />
<path d="M349.8,621.4 L366.2,621.4 L358.0,637.0 Z" fill="none" stroke="#e88ee8" stroke-width="2.0" />
<path d="M388.2,541.1 L404.6,541.1 L396.4,556.7 Z" fill="none" stroke="#e88ee8" stroke-width="2.0" />
<path d="M426.7,546.3 L443.1,546.3 L434.9,561.9 Z" fill="none" stroke="#e88ee8" stroke-width="2.0" />
<path d="M465.1,551.6 L481.5,551.6 L473.3,567.2 Z" fill="none" stroke="#e88ee8" stroke-width="2.0" />
<path d="M503.5,625.2 L519.9,625.2 L511.7,640.8 Z" fill="none" stroke="#e88ee8" stroke-width="2.0" />
<path d="M541.9,795.4 L558.3,795.4 L550.1,811.0 Z" fill="none" stroke="#e88ee8" stroke-width="2.0" />
<path d="M580.4,817.7 L596.8,817.7 L588.6,833.3 Z" fill="none" stroke="#e88ee8" stroke-width="2.0" />
<path d="M618.8,788.0 L635.2,788.0 L627.0,803.6 Z" fill="none" stroke="#e88ee8" stroke-width="2.0" />
<path d="M657.2,932.2 L673.6,932.2 L665.4,947.8 Z" fill="none" stroke="#e88ee8" stroke-width="2.0" />
<path d="M695.7,950.1 L712.1,950.1 L703.9,965.7 Z" fill="none" stroke="#e88ee8" stroke-width="2.0" />
<path d="M734.1,959.7 L750.5,959.7 L742.3,975.3 Z" fill="none" stroke="#e88ee8" stroke-width="2.0" />
<path d="M772.5,967.5 L788.9,967.5 L780.7,983.1 Z" fill="none" stroke="#e88ee8" stroke-width="2.0" />
<path d="M811.0,968.3 L827.4,968.3 L819.2,983.9 Z" fill="none" stroke="#e88ee8" stroke-width="2.0" />
<path d="M849.4,968.3 L865.8,968.3 L857.6,983.9 Z" fill="none" stroke="#e88ee8" stroke-width="2.0" />
<path d="M887.8,968.3 L904.2,968.3 L896.0,983.9 Z" fill="none" stroke="#e88ee8" stroke-width="2.0" />
<path d="M926.2,968.3 L942.6,968.3 L934.4,983.9 Z" fill="none" stroke="#e88ee8" stroke-width="2.0" />
<path d="M964.7,968.3 L981.1,968.3 L972.9,983.9 Z" fill="none" stroke="#e88ee8" stroke-width="2.0" />
<polyline points="242.7,974.2 281.1,969.7 319.6,954.1 358.0,771.9 396.4,567.5 434.9,623.2 473.3,716.2 511.7,928.1 550.1,965.2 588.6,971.9 627.0,972.7 665.4,974.9 703.9,975.3 742.3,975.3 780.7,975.3 819.2,975.3 857.6,975.3 896.0,975.3 934.4,975.3 972.9,975.3" fill="none" stroke="#5ec4a8" stroke-width="2.1" stroke-linejoin="round"/>
<circle cx="242.7" cy="974.2" r="8.0" fill="none" stroke="#5ec4a8" stroke-width="2.0"/>
<circle cx="281.1" cy="969.7" r="8.0" fill="none" stroke="#5ec4a8" stroke-width="2.0"/>
<circle cx="319.6" cy="954.1" r="8.0" fill="none" stroke="#5ec4a8" stroke-width="2.0"/>
<circle cx="358.0" cy="771.9" r="8.0" fill="none" stroke="#5ec4a8" stroke-width="2.0"/>
<circle cx="396.4" cy="567.5" r="8.0" fill="none" stroke="#5ec4a8" stroke-width="2.0"/>
<circle cx="434.9" cy="623.2" r="8.0" fill="none" stroke="#5ec4a8" stroke-width="2.0"/>
<circle cx="473.3" cy="716.2" r="8.0" fill="none" stroke="#5ec4a8" stroke-width="2.0"/>
<circle cx="511.7" cy="928.1" r="8.0" fill="none" stroke="#5ec4a8" stroke-width="2.0"/>
<circle cx="550.1" cy="965.2" r="8.0" fill="none" stroke="#5ec4a8" stroke-width="2.0"/>
<circle cx="588.6" cy="971.9" r="8.0" fill="none" stroke="#5ec4a8" stroke-width="2.0"/>
<circle cx="627.0" cy="972.7" r="8.0" fill="none" stroke="#5ec4a8" stroke-width="2.0"/>
<circle cx="665.4" cy="974.9" r="8.0" fill="none" stroke="#5ec4a8" stroke-width="2.0"/>
<circle cx="703.9" cy="975.3" r="8.0" fill="none" stroke="#5ec4a8" stroke-width="2.0"/>
<circle cx="742.3" cy="975.3" r="8.0" fill="none" stroke="#5ec4a8" stroke-width="2.0"/>
<circle cx="780.7" cy="975.3" r="8.0" fill="none" stroke="#5ec4a8" stroke-width="2.0"/>
<circle cx="819.2" cy="975.3" r="8.0" fill="none" stroke="#5ec4a8" stroke-width="2.0"/>
<circle cx="857.6" cy="975.3" r="8.0" fill="none" stroke="#5ec4a8" stroke-width="2.0"/>
<circle cx="896.0" cy="975.3" r="8.0" fill="none" stroke="#5ec4a8" stroke-width="2.0"/>
<circle cx="934.4" cy="975.3" r="8.0" fill="none" stroke="#5ec4a8" stroke-width="2.0"/>
<circle cx="972.9" cy="975.3" r="8.0" fill="none" stroke="#5ec4a8" stroke-width="2.0"/>
<polyline points="242.7,974.2 281.1,970.5 319.6,949.6 358.0,767.5 396.4,563.8 434.9,628.4 473.3,713.2 511.7,930.3 550.1,967.5 588.6,972.7 627.0,973.4 665.4,974.9 703.9,975.3 742.3,975.3 780.7,975.3 819.2,975.3 857.6,975.3 896.0,975.3 934.4,975.3 972.9,975.3" fill="none" stroke="#96a5be" stroke-width="2.1" stroke-linejoin="round"/>
<rect x="233.6" y="965.1" width="18.2" height="18.2" fill="#96a5be" />
<rect x="272.0" y="961.4" width="18.2" height="18.2" fill="#96a5be" />
<rect x="310.5" y="940.5" width="18.2" height="18.2" fill="#96a5be" />
<rect x="348.9" y="758.4" width="18.2" height="18.2" fill="#96a5be" />
<rect x="387.3" y="554.7" width="18.2" height="18.2" fill="#96a5be" />
<rect x="425.8" y="619.3" width="18.2" height="18.2" fill="#96a5be" />
<rect x="464.2" y="704.1" width="18.2" height="18.2" fill="#96a5be" />
<rect x="502.6" y="921.2" width="18.2" height="18.2" fill="#96a5be" />
<rect x="541.0" y="958.4" width="18.2" height="18.2" fill="#96a5be" />
<rect x="579.5" y="963.6" width="18.2" height="18.2" fill="#96a5be" />
<rect x="617.9" y="964.3" width="18.2" height="18.2" fill="#96a5be" />
<rect x="656.3" y="965.8" width="18.2" height="18.2" fill="#96a5be" />
<rect x="694.8" y="966.2" width="18.2" height="18.2" fill="#96a5be" />
<rect x="733.2" y="966.2" width="18.2" height="18.2" fill="#96a5be" />
<rect x="771.6" y="966.2" width="18.2" height="18.2" fill="#96a5be" />
<rect x="810.1" y="966.2" width="18.2" height="18.2" fill="#96a5be" />
<rect x="848.5" y="966.2" width="18.2" height="18.2" fill="#96a5be" />
<rect x="886.9" y="966.2" width="18.2" height="18.2" fill="#96a5be" />
<rect x="925.3" y="966.2" width="18.2" height="18.2" fill="#96a5be" />
<rect x="963.8" y="966.2" width="18.2" height="18.2" fill="#96a5be" />
<polyline points="242.7,974.2 281.1,970.5 319.6,955.6 358.0,777.9 396.4,569.0 434.9,631.4 473.3,717.7 511.7,929.6 550.1,966.7 588.6,972.7 627.0,973.4 665.4,974.9 703.9,975.3 742.3,975.3 780.7,975.3 819.2,975.3 857.6,975.3 896.0,975.3 934.4,975.3 972.9,975.3" fill="none" stroke="#7f826f" stroke-width="2.1" stroke-linejoin="round"/>
<path d="M233.8,974.2 L238.2,966.3 L247.2,966.3 L251.6,974.2 L247.2,982.1 L238.2,982.1 Z" fill="#7f826f" stroke="none" stroke-width="0" />
<path d="M272.2,970.5 L276.6,962.6 L285.6,962.6 L290.0,970.5 L285.6,978.4 L276.6,978.4 Z" fill="#7f826f" stroke="none" stroke-width="0" />
<path d="M310.7,955.6 L315.1,947.7 L324.1,947.7 L328.5,955.6 L324.1,963.5 L315.1,963.5 Z" fill="#7f826f" stroke="none" stroke-width="0" />
<path d="M349.1,777.9 L353.5,770.0 L362.5,770.0 L366.9,777.9 L362.5,785.8 L353.5,785.8 Z" fill="#7f826f" stroke="none" stroke-width="0" />
<path d="M387.5,569.0 L391.9,561.1 L400.9,561.1 L405.3,569.0 L400.9,576.9 L391.9,576.9 Z" fill="#7f826f" stroke="none" stroke-width="0" />
<path d="M426.0,631.4 L430.4,623.5 L439.4,623.5 L443.8,631.4 L439.4,639.3 L430.4,639.3 Z" fill="#7f826f" stroke="none" stroke-width="0" />
<path d="M464.4,717.7 L468.8,709.8 L477.8,709.8 L482.2,717.7 L477.8,725.6 L468.8,725.6 Z" fill="#7f826f" stroke="none" stroke-width="0" />
<path d="M502.8,929.6 L507.2,921.7 L516.2,921.7 L520.6,929.6 L516.2,937.5 L507.2,937.5 Z" fill="#7f826f" stroke="none" stroke-width="0" />
<path d="M541.2,966.7 L545.6,958.8 L554.6,958.8 L559.0,966.7 L554.6,974.6 L545.6,974.6 Z" fill="#7f826f" stroke="none" stroke-width="0" />
<path d="M579.7,972.7 L584.1,964.8 L593.1,964.8 L597.5,972.7 L593.1,980.6 L584.1,980.6 Z" fill="#7f826f" stroke="none" stroke-width="0" />
<path d="M618.1,973.4 L622.5,965.5 L631.5,965.5 L635.9,973.4 L631.5,981.3 L622.5,981.3 Z" fill="#7f826f" stroke="none" stroke-width="0" />
<path d="M656.5,974.9 L660.9,967.0 L669.9,967.0 L674.3,974.9 L669.9,982.8 L660.9,982.8 Z" fill="#7f826f" stroke="none" stroke-width="0" />
<path d="M695.0,975.3 L699.4,967.4 L708.4,967.4 L712.8,975.3 L708.4,983.2 L699.4,983.2 Z" fill="#7f826f" stroke="none" stroke-width="0" />
<path d="M733.4,975.3 L737.8,967.4 L746.8,967.4 L751.2,975.3 L746.8,983.2 L737.8,983.2 Z" fill="#7f826f" stroke="none" stroke-width="0" />
<path d="M771.8,975.3 L776.2,967.4 L785.2,967.4 L789.6,975.3 L785.2,983.2 L776.2,983.2 Z" fill="#7f826f" stroke="none" stroke-width="0" />
<path d="M810.3,975.3 L814.7,967.4 L823.7,967.4 L828.1,975.3 L823.7,983.2 L814.7,983.2 Z" fill="#7f826f" stroke="none" stroke-width="0" />
<path d="M848.7,975.3 L853.1,967.4 L862.1,967.4 L866.5,975.3 L862.1,983.2 L853.1,983.2 Z" fill="#7f826f" stroke="none" stroke-width="0" />
<path d="M887.1,975.3 L891.5,967.4 L900.5,967.4 L904.9,975.3 L900.5,983.2 L891.5,983.2 Z" fill="#7f826f" stroke="none" stroke-width="0" />
<path d="M925.5,975.3 L929.9,967.4 L938.9,967.4 L943.3,975.3 L938.9,983.2 L929.9,983.2 Z" fill="#7f826f" stroke="none" stroke-width="0" />
<path d="M964.0,975.3 L968.4,967.4 L977.4,967.4 L981.8,975.3 L977.4,983.2 L968.4,983.2 Z" fill="#7f826f" stroke="none" stroke-width="0" />
<polyline points="242.7,974.2 281.1,969.0 319.6,954.1 358.0,772.7 396.4,555.6 434.9,609.1 473.3,716.2 511.7,930.3 550.1,967.5 588.6,972.7 627.0,973.4 665.4,974.9 703.9,975.3 742.3,975.3 780.7,975.3 819.2,975.3 857.6,975.3 896.0,975.3 934.4,975.3 972.9,975.3" fill="none" stroke="#c3d47e" stroke-width="2.1" stroke-linejoin="round"/>
<path d="M233.8,974.2 L242.7,964.8 L251.6,974.2 L242.7,983.6 Z" fill="#c3d47e" stroke="none" stroke-width="0" />
<path d="M272.2,969.0 L281.1,959.6 L290.0,969.0 L281.1,978.4 Z" fill="#c3d47e" stroke="none" stroke-width="0" />
<path d="M310.7,954.1 L319.6,944.7 L328.5,954.1 L319.6,963.5 Z" fill="#c3d47e" stroke="none" stroke-width="0" />
<path d="M349.1,772.7 L358.0,763.3 L366.9,772.7 L358.0,782.1 Z" fill="#c3d47e" stroke="none" stroke-width="0" />
<path d="M387.5,555.6 L396.4,546.2 L405.3,555.6 L396.4,565.0 Z" fill="#c3d47e" stroke="none" stroke-width="0" />
<path d="M426.0,609.1 L434.9,599.7 L443.8,609.1 L434.9,618.5 Z" fill="#c3d47e" stroke="none" stroke-width="0" />
<path d="M464.4,716.2 L473.3,706.8 L482.2,716.2 L473.3,725.6 Z" fill="#c3d47e" stroke="none" stroke-width="0" />
<path d="M502.8,930.3 L511.7,920.9 L520.6,930.3 L511.7,939.7 Z" fill="#c3d47e" stroke="none" stroke-width="0" />
<path d="M541.2,967.5 L550.1,958.1 L559.0,967.5 L550.1,976.9 Z" fill="#c3d47e" stroke="none" stroke-width="0" />
<path d="M579.7,972.7 L588.6,963.3 L597.5,972.7 L588.6,982.1 Z" fill="#c3d47e" stroke="none" stroke-width="0" />
<path d="M618.1,973.4 L627.0,964.0 L635.9,973.4 L627.0,982.8 Z" fill="#c3d47e" stroke="none" stroke-width="0" />
<path d="M656.5,974.9 L665.4,965.5 L674.3,974.9 L665.4,984.3 Z" fill="#c3d47e" stroke="none" stroke-width="0" />
<path d="M695.0,975.3 L703.9,965.9 L712.8,975.3 L703.9,984.7 Z" fill="#c3d47e" stroke="none" stroke-width="0" />
<path d="M733.4,975.3 L742.3,965.9 L751.2,975.3 L742.3,984.7 Z" fill="#c3d47e" stroke="none" stroke-width="0" />
<path d="M771.8,975.3 L780.7,965.9 L789.6,975.3 L780.7,984.7 Z" fill="#c3d47e" stroke="none" stroke-width="0" />
<path d="M810.3,975.3 L819.2,965.9 L828.1,975.3 L819.2,984.7 Z" fill="#c3d47e" stroke="none" stroke-width="0" />
<path d="M848.7,975.3 L857.6,965.9 L866.5,975.3 L857.6,984.7 Z" fill="#c3d47e" stroke="none" stroke-width="0" />
<path d="M887.1,975.3 L896.0,965.9 L904.9,975.3 L896.0,984.7 Z" fill="#c3d47e" stroke="none" stroke-width="0" />
<path d="M925.5,975.3 L934.4,965.9 L943.3,975.3 L934.4,984.7 Z" fill="#c3d47e" stroke="none" stroke-width="0" />
<path d="M964.0,975.3 L972.9,965.9 L981.8,975.3 L972.9,984.7 Z" fill="#c3d47e" stroke="none" stroke-width="0" />
<polyline points="242.7,969.0 281.1,961.5 319.6,948.1 358.0,762.3 396.4,637.4 434.9,600.2 473.3,711.7 511.7,904.3 550.1,949.6 588.6,966.7 627.0,964.5 665.4,972.7 703.9,975.3 742.3,975.3 780.7,975.3 819.2,975.3 857.6,975.3 896.0,975.3 934.4,975.3 972.9,975.3" fill="none" stroke="#8aeede" stroke-width="2.1" stroke-linejoin="round"/>
<path d="M232.8,977.2 L252.6,977.2 L242.7,958.4 Z" fill="#8aeede" stroke="none" stroke-width="0" />
<path d="M271.2,969.7 L291.0,969.7 L281.1,950.9 Z" fill="#8aeede" stroke="none" stroke-width="0" />
<path d="M309.7,956.3 L329.5,956.3 L319.6,937.5 Z" fill="#8aeede" stroke="none" stroke-width="0" />
<path d="M348.1,770.5 L367.9,770.5 L358.0,751.7 Z" fill="#8aeede" stroke="none" stroke-width="0" />
<path d="M386.5,645.6 L406.3,645.6 L396.4,626.8 Z" fill="#8aeede" stroke="none" stroke-width="0" />
<path d="M425.0,608.4 L444.8,608.4 L434.9,589.6 Z" fill="#8aeede" stroke="none" stroke-width="0" />
<path d="M463.4,719.9 L483.2,719.9 L473.3,701.1 Z" fill="#8aeede" stroke="none" stroke-width="0" />
<path d="M501.8,912.5 L521.6,912.5 L511.7,893.7 Z" fill="#8aeede" stroke="none" stroke-width="0" />
<path d="M540.2,957.8 L560.0,957.8 L550.1,939.0 Z" fill="#8aeede" stroke="none" stroke-width="0" />
<path d="M578.7,974.9 L598.5,974.9 L588.6,956.1 Z" fill="#8aeede" stroke="none" stroke-width="0" />
<path d="M617.1,972.7 L636.9,972.7 L627.0,953.9 Z" fill="#8aeede" stroke="none" stroke-width="0" />
<path d="M655.5,980.9 L675.3,980.9 L665.4,962.1 Z" fill="#8aeede" stroke="none" stroke-width="0" />
<path d="M694.0,983.5 L713.8,983.5 L703.9,964.7 Z" fill="#8aeede" stroke="none" stroke-width="0" />
<path d="M732.4,983.5 L752.2,983.5 L742.3,964.7 Z" fill="#8aeede" stroke="none" stroke-width="0" />
<path d="M770.8,983.5 L790.6,983.5 L780.7,964.7 Z" fill="#8aeede" stroke="none" stroke-width="0" />
<path d="M809.3,983.5 L829.1,983.5 L819.2,964.7 Z" fill="#8aeede" stroke="none" stroke-width="0" />
<path d="M847.7,983.5 L867.5,983.5 L857.6,964.7 Z" fill="#8aeede" stroke="none" stroke-width="0" />
<path d="M886.1,983.5 L905.9,983.5 L896.0,964.7 Z" fill="#8aeede" stroke="none" stroke-width="0" />
<path d="M924.5,983.5 L944.3,983.5 L934.4,964.7 Z" fill="#8aeede" stroke="none" stroke-width="0" />
<path d="M963.0,983.5 L982.8,983.5 L972.9,964.7 Z" fill="#8aeede" stroke="none" stroke-width="0" />
<polyline points="242.7,973.4 281.1,967.8 319.6,961.5 358.0,821.0 396.4,678.3 434.9,642.6 473.3,720.6 511.7,913.9 550.1,957.8 588.6,969.0 627.0,969.0 665.4,974.2 703.9,975.3 742.3,975.3 780.7,975.3 819.2,975.3 857.6,975.3 896.0,975.3 934.4,975.3 972.9,975.3" fill="none" stroke="#7b9bd4" stroke-width="2.1" stroke-linejoin="round"/>
<circle cx="242.7" cy="973.4" r="8.6" fill="#7b9fd8" stroke="#5f84c4" stroke-width="1.2"/>
<circle cx="242.7" cy="973.4" r="6.6" fill="none" stroke="#5f84c4" stroke-width="0.7"/>
<circle cx="281.1" cy="967.8" r="8.6" fill="#7b9fd8" stroke="#5f84c4" stroke-width="1.2"/>
<circle cx="281.1" cy="967.8" r="6.6" fill="none" stroke="#5f84c4" stroke-width="0.7"/>
<circle cx="319.6" cy="961.5" r="8.6" fill="#7b9fd8" stroke="#5f84c4" stroke-width="1.2"/>
<circle cx="319.6" cy="961.5" r="6.6" fill="none" stroke="#5f84c4" stroke-width="0.7"/>
<circle cx="358.0" cy="821.0" r="8.6" fill="#7b9fd8" stroke="#5f84c4" stroke-width="1.2"/>
<circle cx="358.0" cy="821.0" r="6.6" fill="none" stroke="#5f84c4" stroke-width="0.7"/>
<circle cx="396.4" cy="678.3" r="8.6" fill="#7b9fd8" stroke="#5f84c4" stroke-width="1.2"/>
<circle cx="396.4" cy="678.3" r="6.6" fill="none" stroke="#5f84c4" stroke-width="0.7"/>
<circle cx="434.9" cy="642.6" r="8.6" fill="#7b9fd8" stroke="#5f84c4" stroke-width="1.2"/>
<circle cx="434.9" cy="642.6" r="6.6" fill="none" stroke="#5f84c4" stroke-width="0.7"/>
<circle cx="473.3" cy="720.6" r="8.6" fill="#7b9fd8" stroke="#5f84c4" stroke-width="1.2"/>
<circle cx="473.3" cy="720.6" r="6.6" fill="none" stroke="#5f84c4" stroke-width="0.7"/>
<circle cx="511.7" cy="913.9" r="8.6" fill="#7b9fd8" stroke="#5f84c4" stroke-width="1.2"/>
<circle cx="511.7" cy="913.9" r="6.6" fill="none" stroke="#5f84c4" stroke-width="0.7"/>
<circle cx="550.1" cy="957.8" r="8.6" fill="#7b9fd8" stroke="#5f84c4" stroke-width="1.2"/>
<circle cx="550.1" cy="957.8" r="6.6" fill="none" stroke="#5f84c4" stroke-width="0.7"/>
<circle cx="588.6" cy="969.0" r="8.6" fill="#7b9fd8" stroke="#5f84c4" stroke-width="1.2"/>
<circle cx="588.6" cy="969.0" r="6.6" fill="none" stroke="#5f84c4" stroke-width="0.7"/>
<circle cx="627.0" cy="969.0" r="8.6" fill="#7b9fd8" stroke="#5f84c4" stroke-width="1.2"/>
<circle cx="627.0" cy="969.0" r="6.6" fill="none" stroke="#5f84c4" stroke-width="0.7"/>
<circle cx="665.4" cy="974.2" r="8.6" fill="#7b9fd8" stroke="#5f84c4" stroke-width="1.2"/>
<circle cx="665.4" cy="974.2" r="6.6" fill="none" stroke="#5f84c4" stroke-width="0.7"/>
<circle cx="703.9" cy="975.3" r="8.6" fill="#7b9fd8" stroke="#5f84c4" stroke-width="1.2"/>
<circle cx="703.9" cy="975.3" r="6.6" fill="none" stroke="#5f84c4" stroke-width="0.7"/>
<circle cx="742.3" cy="975.3" r="8.6" fill="#7b9fd8" stroke="#5f84c4" stroke-width="1.2"/>
<circle cx="742.3" cy="975.3" r="6.6" fill="none" stroke="#5f84c4" stroke-width="0.7"/>
<circle cx="780.7" cy="975.3" r="8.6" fill="#7b9fd8" stroke="#5f84c4" stroke-width="1.2"/>
<circle cx="780.7" cy="975.3" r="6.6" fill="none" stroke="#5f84c4" stroke-width="0.7"/>
<circle cx="819.2" cy="975.3" r="8.6" fill="#7b9fd8" stroke="#5f84c4" stroke-width="1.2"/>
<circle cx="819.2" cy="975.3" r="6.6" fill="none" stroke="#5f84c4" stroke-width="0.7"/>
<circle cx="857.6" cy="975.3" r="8.6" fill="#7b9fd8" stroke="#5f84c4" stroke-width="1.2"/>
<circle cx="857.6" cy="975.3" r="6.6" fill="none" stroke="#5f84c4" stroke-width="0.7"/>
<circle cx="896.0" cy="975.3" r="8.6" fill="#7b9fd8" stroke="#5f84c4" stroke-width="1.2"/>
<circle cx="896.0" cy="975.3" r="6.6" fill="none" stroke="#5f84c4" stroke-width="0.7"/>
<circle cx="934.4" cy="975.3" r="8.6" fill="#7b9fd8" stroke="#5f84c4" stroke-width="1.2"/>
<circle cx="934.4" cy="975.3" r="6.6" fill="none" stroke="#5f84c4" stroke-width="0.7"/>
<circle cx="972.9" cy="975.3" r="8.6" fill="#7b9fd8" stroke="#5f84c4" stroke-width="1.2"/>
<circle cx="972.9" cy="975.3" r="6.6" fill="none" stroke="#5f84c4" stroke-width="0.7"/>
<text x="242.7" y="1019.8" font-size="22.6" text-anchor="middle" textLength="10.2" lengthAdjust="spacingAndGlyphs">1</text>
<text x="242.2" y="1056.4" font-size="22.6" text-anchor="middle" textLength="14.6" lengthAdjust="spacingAndGlyphs">8</text>
<text x="281.1" y="1019.8" font-size="22.6" text-anchor="middle" textLength="14.6" lengthAdjust="spacingAndGlyphs">2</text>
<text x="280.6" y="1056.4" font-size="22.6" text-anchor="middle" textLength="14.6" lengthAdjust="spacingAndGlyphs">8</text>
<text x="319.6" y="1019.8" font-size="22.6" text-anchor="middle" textLength="14.6" lengthAdjust="spacingAndGlyphs">3</text>
<text x="319.1" y="1056.4" font-size="22.6" text-anchor="middle" textLength="23.2" lengthAdjust="spacingAndGlyphs">14</text>
<text x="358.0" y="1019.8" font-size="22.6" text-anchor="middle" textLength="14.6" lengthAdjust="spacingAndGlyphs">4</text>
<text x="357.5" y="1056.4" font-size="22.6" text-anchor="middle" textLength="14.6" lengthAdjust="spacingAndGlyphs">8</text>
<text x="396.4" y="1019.8" font-size="22.6" text-anchor="middle" textLength="14.6" lengthAdjust="spacingAndGlyphs">5</text>
<text x="395.9" y="1056.4" font-size="22.6" text-anchor="middle" textLength="27.6" lengthAdjust="spacingAndGlyphs">23</text>
<text x="434.9" y="1019.8" font-size="22.6" text-anchor="middle" textLength="14.6" lengthAdjust="spacingAndGlyphs">6</text>
<text x="434.4" y="1056.4" font-size="22.6" text-anchor="middle" textLength="18.8" lengthAdjust="spacingAndGlyphs">11</text>
<text x="473.3" y="1019.8" font-size="22.6" text-anchor="middle" textLength="14.6" lengthAdjust="spacingAndGlyphs">7</text>
<text x="472.8" y="1056.4" font-size="22.6" text-anchor="middle" textLength="14.6" lengthAdjust="spacingAndGlyphs">7</text>
<text x="511.7" y="1019.8" font-size="22.6" text-anchor="middle" textLength="14.6" lengthAdjust="spacingAndGlyphs">8</text>
<text x="511.2" y="1056.4" font-size="22.6" text-anchor="middle" textLength="14.6" lengthAdjust="spacingAndGlyphs">7</text>
<text x="550.1" y="1019.8" font-size="22.6" text-anchor="middle" textLength="14.6" lengthAdjust="spacingAndGlyphs">9</text>
<text x="549.6" y="1056.4" font-size="22.6" text-anchor="middle" textLength="23.2" lengthAdjust="spacingAndGlyphs">13</text>
<text x="588.6" y="1019.8" font-size="22.6" text-anchor="middle" textLength="23.2" lengthAdjust="spacingAndGlyphs">10</text>
<text x="588.1" y="1056.4" font-size="22.6" text-anchor="middle" textLength="14.6" lengthAdjust="spacingAndGlyphs">6</text>
<text x="627.0" y="1019.8" font-size="22.6" text-anchor="middle" textLength="18.8" lengthAdjust="spacingAndGlyphs">11</text>
<text x="626.5" y="1056.4" font-size="22.6" text-anchor="middle" textLength="18.8" lengthAdjust="spacingAndGlyphs">11</text>
<text x="665.4" y="1019.8" font-size="22.6" text-anchor="middle" textLength="23.2" lengthAdjust="spacingAndGlyphs">12</text>
<text x="664.9" y="1056.4" font-size="22.6" text-anchor="middle" textLength="23.2" lengthAdjust="spacingAndGlyphs">13</text>
<text x="703.9" y="1019.8" font-size="22.6" text-anchor="middle" textLength="23.2" lengthAdjust="spacingAndGlyphs">13</text>
<text x="703.4" y="1056.4" font-size="22.6" text-anchor="middle" textLength="14.6" lengthAdjust="spacingAndGlyphs">5</text>
<text x="742.3" y="1019.8" font-size="22.6" text-anchor="middle" textLength="23.2" lengthAdjust="spacingAndGlyphs">14</text>
<text x="741.8" y="1056.4" font-size="22.6" text-anchor="middle" textLength="18.8" lengthAdjust="spacingAndGlyphs">11</text>
<text x="780.7" y="1019.8" font-size="22.6" text-anchor="middle" textLength="23.2" lengthAdjust="spacingAndGlyphs">15</text>
<text x="780.2" y="1056.4" font-size="22.6" text-anchor="middle" textLength="23.2" lengthAdjust="spacingAndGlyphs">10</text>
<text x="819.2" y="1019.8" font-size="22.6" text-anchor="middle" textLength="23.2" lengthAdjust="spacingAndGlyphs">16</text>
<text x="818.7" y="1056.4" font-size="22.6" text-anchor="middle" textLength="23.2" lengthAdjust="spacingAndGlyphs">12</text>
<text x="857.6" y="1019.8" font-size="22.6" text-anchor="middle" textLength="23.2" lengthAdjust="spacingAndGlyphs">17</text>
<text x="857.1" y="1056.4" font-size="22.6" text-anchor="middle" textLength="14.6" lengthAdjust="spacingAndGlyphs">8</text>
<text x="896.0" y="1019.8" font-size="22.6" text-anchor="middle" textLength="23.2" lengthAdjust="spacingAndGlyphs">18</text>
<text x="900.0" y="1056.4" font-size="22.6" text-anchor="middle" textLength="14.6" lengthAdjust="spacingAndGlyphs">7</text>
<text x="934.4" y="1019.8" font-size="22.6" text-anchor="middle" textLength="23.2" lengthAdjust="spacingAndGlyphs">19</text>
<text x="933.9" y="1056.4" font-size="22.6" text-anchor="middle" textLength="23.2" lengthAdjust="spacingAndGlyphs">12</text>
<text x="972.9" y="1019.8" font-size="22.6" text-anchor="middle" textLength="27.6" lengthAdjust="spacingAndGlyphs">20</text>
<text x="972.4" y="1056.4" font-size="22.6" text-anchor="middle" textLength="18.8" lengthAdjust="spacingAndGlyphs">11</text>
<text x="24.6" y="1056.6" font-size="26.8" textLength="178.6" lengthAdjust="spacingAndGlyphs">Number of A’s</text>
<text x="607.3" y="1096.0" font-size="25.5" text-anchor="middle" textLength="214.7" lengthAdjust="spacingAndGlyphs">Target A position</text>
<text x="111.8" y="699.6" font-size="28.5" text-anchor="middle" textLength="391.0" lengthAdjust="spacingAndGlyphs" transform="rotate(-90 111.8 699.6)">Average normalized A•T to G•C</text>
<text x="142.9" y="703.5" font-size="28.5" text-anchor="middle" textLength="219.0" lengthAdjust="spacingAndGlyphs" transform="rotate(-90 142.9 703.5)">editing efficiency</text>
<line x1="725.7" y1="488.0" x2="781.0" y2="488.0" stroke="#7b9bd4" stroke-width="1.9" />
<circle cx="752.9" cy="488.0" r="8.6" fill="#7b9fd8" stroke="#5f84c4" stroke-width="1.2"/>
<circle cx="752.9" cy="488.0" r="6.6" fill="none" stroke="#5f84c4" stroke-width="0.7"/>
<text x="794.0" y="494.3" font-size="21.6" textLength="85.1" lengthAdjust="spacingAndGlyphs">ABE7.10</text>
<line x1="725.7" y1="525.9" x2="781.0" y2="525.9" stroke="#8aeede" stroke-width="1.9" />
<path d="M743.0,534.1 L762.8,534.1 L752.9,515.3 Z" fill="#8aeede" stroke="none" stroke-width="0" />
<text x="794.0" y="532.2" font-size="21.6" textLength="106.8" lengthAdjust="spacingAndGlyphs">ABE7.10-K</text>
<line x1="725.7" y1="563.4" x2="781.0" y2="563.4" stroke="#c3d47e" stroke-width="1.9" />
<path d="M744.0,563.4 L752.9,554.0 L761.8,563.4 L752.9,572.8 Z" fill="#c3d47e" stroke="none" stroke-width="0" />
<text x="794.0" y="569.7" font-size="21.6" textLength="123.7" lengthAdjust="spacingAndGlyphs">ABE7.10-HK</text>
<line x1="725.7" y1="601.6" x2="781.0" y2="601.6" stroke="#7f826f" stroke-width="1.9" />
<path d="M744.0,601.6 L748.4,593.7 L757.4,593.7 L761.8,601.6 L757.4,609.5 L748.4,609.5 Z" fill="#7f826f" stroke="none" stroke-width="0" />
<text x="794.0" y="607.9" font-size="21.6" textLength="137.5" lengthAdjust="spacingAndGlyphs">ABE7.10-HSK</text>
<line x1="725.7" y1="638.9" x2="781.0" y2="638.9" stroke="#96a5be" stroke-width="1.9" />
<rect x="743.8" y="629.8" width="18.2" height="18.2" fill="#96a5be" />
<text x="794.0" y="645.2" font-size="21.6" textLength="154.7" lengthAdjust="spacingAndGlyphs">ABE7.10-HHSK</text>
<line x1="725.7" y1="676.6" x2="781.0" y2="676.6" stroke="#5ec4a8" stroke-width="1.9" />
<circle cx="752.9" cy="676.6" r="8.0" fill="none" stroke="#5ec4a8" stroke-width="2.0"/>
<text x="794.0" y="682.9" font-size="21.6" textLength="169.1" lengthAdjust="spacingAndGlyphs">ABE7.10-HRHSK</text>
<line x1="725.7" y1="714.1" x2="781.0" y2="714.1" stroke="#e88ee8" stroke-width="1.9" />
<path d="M744.7,707.1 L761.1,707.1 L752.9,722.7 Z" fill="none" stroke="#e88ee8" stroke-width="2.0" />
<text x="794.0" y="720.4" font-size="21.6" textLength="68.8" lengthAdjust="spacingAndGlyphs">ABE8e</text>
<line x1="725.7" y1="752.5" x2="781.0" y2="752.5" stroke="#e0707a" stroke-width="1.9" />
<path d="M745.3,752.5 L749.1,745.9 L756.7,745.9 L760.5,752.5 L756.7,759.1 L749.1,759.1 Z" fill="none" stroke="#e0707a" stroke-width="2.0" />
<text x="794.0" y="758.8" font-size="21.6" textLength="90.1" lengthAdjust="spacingAndGlyphs">ABE8.20</text>
<line x1="725.7" y1="787.2" x2="781.0" y2="787.2" stroke="#000" stroke-width="2.4" />
<line x1="745.1" y1="779.4" x2="760.7" y2="795.0" stroke="#000" stroke-width="2.6" />
<line x1="745.1" y1="795.0" x2="760.7" y2="779.4" stroke="#000" stroke-width="2.6" />
<text x="794.0" y="793.5" font-size="21.6" textLength="28.4" lengthAdjust="spacingAndGlyphs">NT</text>
<text x="1651.8" y="423.0" font-size="25.5" text-anchor="middle" textLength="468.0" lengthAdjust="spacingAndGlyphs">gRNA-independent off-target activity</text>
<text x="1651.8" y="456.1" font-size="25.5" text-anchor="middle" textLength="514.0" lengthAdjust="spacingAndGlyphs">as measured by orthogonal R-loop assay</text>
<line x1="1311.8" y1="473.8" x2="1311.8" y2="919.4" stroke="#222" stroke-width="1.6" />
<line x1="1300.0" y1="917.8" x2="1311.8" y2="917.8" stroke="#222" stroke-width="1.6" />
<line x1="1311.8" y1="918.7" x2="2024.9" y2="918.7" stroke="#333" stroke-width="1.6" />
<line x1="1300.0" y1="807.0" x2="1311.8" y2="807.0" stroke="#222" stroke-width="1.6" />
<line x1="1300.0" y1="696.2" x2="1311.8" y2="696.2" stroke="#222" stroke-width="1.6" />
<line x1="1300.0" y1="585.4" x2="1311.8" y2="585.4" stroke="#222" stroke-width="1.6" />
<line x1="1300.0" y1="474.6" x2="1311.8" y2="474.6" stroke="#222" stroke-width="1.6" />
<text x="1287.6" y="926.0" font-size="23.6" text-anchor="end" textLength="15.9" lengthAdjust="spacingAndGlyphs">0</text>
<text x="1287.6" y="815.2" font-size="23.6" text-anchor="end" textLength="25.3" lengthAdjust="spacingAndGlyphs">10</text>
<text x="1287.6" y="704.4" font-size="23.6" text-anchor="end" textLength="30.0" lengthAdjust="spacingAndGlyphs">20</text>
<text x="1287.6" y="593.6" font-size="23.6" text-anchor="end" textLength="30.0" lengthAdjust="spacingAndGlyphs">30</text>
<text x="1287.6" y="482.8" font-size="23.6" text-anchor="end" textLength="30.0" lengthAdjust="spacingAndGlyphs">40</text>
<line x1="1312.2" y1="918.7" x2="1312.2" y2="932.0" stroke="#222" stroke-width="1.6" />
<line x1="1359.7" y1="918.7" x2="1359.7" y2="928.6" stroke="#222" stroke-width="1.6" />
<line x1="1407.1" y1="918.7" x2="1407.1" y2="928.6" stroke="#222" stroke-width="1.6" />
<line x1="1454.6" y1="918.7" x2="1454.6" y2="928.6" stroke="#222" stroke-width="1.6" />
<line x1="1502.0" y1="918.7" x2="1502.0" y2="928.6" stroke="#222" stroke-width="1.6" />
<line x1="1549.5" y1="918.7" x2="1549.5" y2="932.0" stroke="#222" stroke-width="1.6" />
<line x1="1597.0" y1="918.7" x2="1597.0" y2="928.6" stroke="#222" stroke-width="1.6" />
<line x1="1644.4" y1="918.7" x2="1644.4" y2="928.6" stroke="#222" stroke-width="1.6" />
<line x1="1691.9" y1="918.7" x2="1691.9" y2="928.6" stroke="#222" stroke-width="1.6" />
<line x1="1739.3" y1="918.7" x2="1739.3" y2="928.6" stroke="#222" stroke-width="1.6" />
<line x1="1786.8" y1="918.7" x2="1786.8" y2="932.0" stroke="#222" stroke-width="1.6" />
<line x1="1834.3" y1="918.7" x2="1834.3" y2="928.6" stroke="#222" stroke-width="1.6" />
<line x1="1881.7" y1="918.7" x2="1881.7" y2="928.6" stroke="#222" stroke-width="1.6" />
<line x1="1929.2" y1="918.7" x2="1929.2" y2="928.6" stroke="#222" stroke-width="1.6" />
<line x1="1976.6" y1="918.7" x2="1976.6" y2="928.6" stroke="#222" stroke-width="1.6" />
<line x1="2024.1" y1="918.7" x2="2024.1" y2="932.0" stroke="#222" stroke-width="1.6" />
<text x="1312.2" y="960.0" font-size="24.4" text-anchor="middle" textLength="16.0" lengthAdjust="spacingAndGlyphs">0</text>
<text x="1549.5" y="960.0" font-size="24.4" text-anchor="middle" textLength="16.0" lengthAdjust="spacingAndGlyphs">5</text>
<text x="1786.8" y="960.0" font-size="24.4" text-anchor="middle" textLength="25.5" lengthAdjust="spacingAndGlyphs">10</text>
<text x="2024.1" y="960.0" font-size="24.4" text-anchor="middle" textLength="25.5" lengthAdjust="spacingAndGlyphs">15</text>
<text x="1667.0" y="994.0" font-size="25.5" text-anchor="middle" textLength="389.0" lengthAdjust="spacingAndGlyphs">Mean off-target editing activity</text>
<text x="1667.0" y="1025.6" font-size="25.5" text-anchor="middle" textLength="99.0" lengthAdjust="spacingAndGlyphs">(3 sites)</text>
<text x="1205.0" y="697.0" font-size="27.5" text-anchor="middle" textLength="389.0" lengthAdjust="spacingAndGlyphs" transform="rotate(-90 1205.0 697.0)">Mean on-target editing activity</text>
<text x="1237.3" y="697.5" font-size="27.5" text-anchor="middle" textLength="95.0" lengthAdjust="spacingAndGlyphs" transform="rotate(-90 1237.3 697.5)">(2 sites)</text>
<line x1="1355.4" y1="553.5" x2="1355.4" y2="664.3" stroke="#333" stroke-width="1.5" />
<line x1="1347.4" y1="553.5" x2="1363.4" y2="553.5" stroke="#333" stroke-width="1.5" />
<line x1="1347.4" y1="664.3" x2="1363.4" y2="664.3" stroke="#333" stroke-width="1.5" />
<line x1="1358.6" y1="580.5" x2="1358.6" y2="678.6" stroke="#333" stroke-width="1.5" />
<line x1="1350.6" y1="580.5" x2="1366.6" y2="580.5" stroke="#333" stroke-width="1.5" />
<line x1="1350.6" y1="678.6" x2="1366.6" y2="678.6" stroke="#333" stroke-width="1.5" />
<line x1="1356.0" y1="572.4" x2="1356.0" y2="665.7" stroke="#333" stroke-width="1.5" />
<line x1="1348.0" y1="572.4" x2="1364.0" y2="572.4" stroke="#333" stroke-width="1.5" />
<line x1="1348.0" y1="665.7" x2="1364.0" y2="665.7" stroke="#333" stroke-width="1.5" />
<line x1="1354.9" y1="569.2" x2="1354.9" y2="666.5" stroke="#333" stroke-width="1.5" />
<line x1="1346.9" y1="569.2" x2="1362.9" y2="569.2" stroke="#333" stroke-width="1.5" />
<line x1="1346.9" y1="666.5" x2="1362.9" y2="666.5" stroke="#333" stroke-width="1.5" />
<line x1="1367.3" y1="684.0" x2="1367.3" y2="771.9" stroke="#333" stroke-width="1.5" />
<line x1="1359.3" y1="684.0" x2="1375.3" y2="684.0" stroke="#333" stroke-width="1.5" />
<line x1="1359.3" y1="771.9" x2="1375.3" y2="771.9" stroke="#333" stroke-width="1.5" />
<line x1="1360.3" y1="728.6" x2="1374.3" y2="728.6" stroke="#333" stroke-width="1.5" />
<line x1="1360.3" y1="721.1" x2="1360.3" y2="736.1" stroke="#333" stroke-width="1.5" />
<line x1="1374.3" y1="721.1" x2="1374.3" y2="736.1" stroke="#333" stroke-width="1.5" />
<line x1="1551.4" y1="526.0" x2="1551.4" y2="642.7" stroke="#333" stroke-width="1.5" />
<line x1="1543.4" y1="526.0" x2="1559.4" y2="526.0" stroke="#333" stroke-width="1.5" />
<line x1="1543.4" y1="642.7" x2="1559.4" y2="642.7" stroke="#333" stroke-width="1.5" />
<line x1="1540.5" y1="584.3" x2="1561.6" y2="584.3" stroke="#333" stroke-width="1.5" />
<line x1="1540.5" y1="576.8" x2="1540.5" y2="591.8" stroke="#333" stroke-width="1.5" />
<line x1="1561.6" y1="576.8" x2="1561.6" y2="591.8" stroke="#333" stroke-width="1.5" />
<line x1="1794.5" y1="571.6" x2="1794.5" y2="682.8" stroke="#333" stroke-width="1.5" />
<line x1="1786.5" y1="571.6" x2="1802.5" y2="571.6" stroke="#333" stroke-width="1.5" />
<line x1="1786.5" y1="682.8" x2="1802.5" y2="682.8" stroke="#333" stroke-width="1.5" />
<line x1="1694.3" y1="626.7" x2="1895.3" y2="626.7" stroke="#333" stroke-width="1.5" />
<line x1="1694.3" y1="619.2" x2="1694.3" y2="634.2" stroke="#333" stroke-width="1.5" />
<line x1="1895.3" y1="619.2" x2="1895.3" y2="634.2" stroke="#333" stroke-width="1.5" />
<circle cx="1355.4" cy="608.9" r="8.0" fill="#9aa8c0" stroke="#111" stroke-width="1.4"/>
<circle cx="1358.6" cy="629.7" r="8.0" fill="#c3d67c" stroke="#111" stroke-width="1.4"/>
<circle cx="1356.0" cy="619.7" r="8.0" fill="#7f826f" stroke="#111" stroke-width="1.4"/>
<circle cx="1354.9" cy="616.2" r="8.0" fill="#6cc8b4" stroke="#111" stroke-width="1.4"/>
<circle cx="1367.3" cy="728.6" r="8.0" fill="#7a9fd8" stroke="#111" stroke-width="1.4"/>
<circle cx="1551.4" cy="584.3" r="8.0" fill="#e0707c" stroke="#111" stroke-width="1.4"/>
<circle cx="1794.5" cy="626.7" r="8.0" fill="#e991ea" stroke="#111" stroke-width="1.4"/>
<circle cx="1313.5" cy="917.8" r="8.6" fill="#000"/>
<text x="1368.9" y="606.5" font-size="22.4" textLength="151.4" lengthAdjust="spacingAndGlyphs">ABE7.10-HHSK</text>
<text x="1373.0" y="632.5" font-size="22.4" textLength="166.2" lengthAdjust="spacingAndGlyphs">ABE7.10-HRHSK</text>
<text x="1368.9" y="654.6" font-size="22.4" textLength="135.1" lengthAdjust="spacingAndGlyphs">ABE7.10-HSK</text>
<text x="1375.7" y="676.8" font-size="22.4" textLength="120.8" lengthAdjust="spacingAndGlyphs">ABE7.10-HK</text>
<text x="1385.1" y="736.5" font-size="22.4" textLength="83.3" lengthAdjust="spacingAndGlyphs">ABE7.10</text>
<text x="1568.4" y="592.5" font-size="22.4" textLength="88.4" lengthAdjust="spacingAndGlyphs">ABE8.20</text>
<text x="1811.3" y="622.5" font-size="22.4" textLength="69.3" lengthAdjust="spacingAndGlyphs">ABE8e</text>
<text x="1331.0" y="907.3" font-size="22.4" textLength="65.0" lengthAdjust="spacingAndGlyphs">nCas9</text>
<text x="0.3" y="1140.5" font-size="39" textLength="23.5" lengthAdjust="spacingAndGlyphs" font-weight="bold" stroke="#000" stroke-width="0.7">c</text>
<rect x="86.8" y="1135.4" width="2003.7" height="37.6" fill="#595959" />
<line x1="84.8" y1="1135.4" x2="2092.5" y2="1135.4" stroke="#000" stroke-width="4" />
<line x1="84.8" y1="1173.0" x2="2092.5" y2="1173.0" stroke="#000" stroke-width="4" />
<line x1="686.0" y1="1218.7" x2="2092.5" y2="1218.7" stroke="#000" stroke-width="4" />
<line x1="84.8" y1="1264.2" x2="2092.5" y2="1264.2" stroke="#000" stroke-width="4" />
<line x1="686.0" y1="1310.2" x2="2092.5" y2="1310.2" stroke="#000" stroke-width="4" />
<line x1="84.8" y1="1356.0" x2="2092.5" y2="1356.0" stroke="#000" stroke-width="4" />
<line x1="84.8" y1="1401.8" x2="2092.5" y2="1401.8" stroke="#000" stroke-width="4" />
<line x1="86.8" y1="1135.4" x2="86.8" y2="1401.8" stroke="#000" stroke-width="4" />
<line x1="304.2" y1="1135.4" x2="304.2" y2="1401.8" stroke="#000" stroke-width="4" />
<line x1="686.0" y1="1135.4" x2="686.0" y2="1401.8" stroke="#000" stroke-width="4" />
<line x1="899.0" y1="1135.4" x2="899.0" y2="1401.8" stroke="#000" stroke-width="4" />
<line x1="1341.8" y1="1135.4" x2="1341.8" y2="1401.8" stroke="#000" stroke-width="4" />
<line x1="2090.5" y1="1135.4" x2="2090.5" y2="1401.8" stroke="#000" stroke-width="4" />
<text x="194.0" y="1167.0" font-size="26" text-anchor="middle" textLength="173.5" lengthAdjust="spacingAndGlyphs" fill="#fff">On-target site</text>
<text x="492.8" y="1167.0" font-size="26" text-anchor="middle" textLength="331.5" lengthAdjust="spacingAndGlyphs" fill="#fff">On-target gRNA sequence</text>
<text x="790.2" y="1167.0" font-size="26" text-anchor="middle" textLength="174.3" lengthAdjust="spacingAndGlyphs" fill="#fff">Off-target site</text>
<text x="1117.2" y="1167.0" font-size="26" text-anchor="middle" textLength="385.1" lengthAdjust="spacingAndGlyphs" fill="#fff">Off-target predicted sequence</text>
<text x="1710.5" y="1167.0" font-size="26" text-anchor="middle" textLength="532.4" lengthAdjust="spacingAndGlyphs" fill="#fff">Off-target source and previous references</text>
<text x="195.6" y="1230.7" font-size="27.6" text-anchor="middle" textLength="60.5" lengthAdjust="spacingAndGlyphs">H2.0</text>
<text x="195.6" y="1322.6" font-size="27.6" text-anchor="middle" textLength="60.5" lengthAdjust="spacingAndGlyphs">H3.0</text>
<text x="195.4" y="1391.0" font-size="27.6" text-anchor="middle" textLength="51.5" lengthAdjust="spacingAndGlyphs">Hi.0</text>
<text x="323.9 340.1 356.1 372.2" y="1229.1" font-size="24.2" text-anchor="middle" style='font-family:"Liberation Serif", serif'>GAAC</text>
<text x="394.6" y="1229.1" font-size="24.2" text-anchor="middle" style='font-family:"Liberation Serif", serif'><tspan font-weight="bold">A</tspan></text>
<text x="412.9 429.1 445.3 461.5 477.8 494.0 510.2 526.4 542.6 558.8 575.0 591.3 607.5 623.7 639.9" y="1229.1" font-size="24.2" text-anchor="middle" style='font-family:"Liberation Serif", serif'>CAAAGCATAGACTGC</text>
<text x="323.9 340.1 356.1 372.2 388.4" y="1320.6" font-size="24.2" text-anchor="middle" style='font-family:"Liberation Serif", serif'>GGCCC</text>
<text x="412.2" y="1320.6" font-size="24.2" text-anchor="middle" style='font-family:"Liberation Serif", serif'><tspan font-weight="bold">A</tspan></text>
<text x="431.5 447.7 464.0 480.2 496.4 512.7 528.9 545.1 561.3 577.6 593.8 610.0 626.3 642.5" y="1320.6" font-size="24.2" text-anchor="middle" style='font-family:"Liberation Serif", serif'>GACTGAGCACGTGA</text>
<text x="323.9 340.1 356.1 372.2" y="1388.9" font-size="24.2" text-anchor="middle" style='font-family:"Liberation Serif", serif'>GAAG</text>
<text x="394.6" y="1388.9" font-size="24.2" text-anchor="middle" style='font-family:"Liberation Serif", serif'><tspan font-weight="bold">A</tspan></text>
<text x="412.9 429.1 445.3 461.5 477.8 494.0 510.2 526.4 542.6 558.8 575.0 591.3 607.5 623.7 639.9" y="1388.9" font-size="24.2" text-anchor="middle" style='font-family:"Liberation Serif", serif'>CCAAGGATAGACTGC</text>
<text x="786.3" y="1208.8" font-size="27.6" text-anchor="middle" textLength="142.2" lengthAdjust="spacingAndGlyphs">H2.0 Off-T1</text>
<text x="788.0" y="1254.3" font-size="27.6" text-anchor="middle" textLength="146.0" lengthAdjust="spacingAndGlyphs">H2.0 Off-T3</text>
<text x="786.5" y="1299.9" font-size="27.6" text-anchor="middle" textLength="142.8" lengthAdjust="spacingAndGlyphs">H3.0 Off-T1</text>
<text x="788.6" y="1345.4" font-size="27.6" text-anchor="middle" textLength="146.8" lengthAdjust="spacingAndGlyphs">H3.0 Off-T2</text>
<text x="787.7" y="1391.0" font-size="27.6" text-anchor="middle" textLength="133.6" lengthAdjust="spacingAndGlyphs">Hi.0 Off-T1</text>
<text x="950.6 968.5 986.4 1004.3 1022.2 1040.1 1058.0 1075.9 1093.8 1111.7 1129.6 1147.5 1165.4 1183.2 1201.2 1219.1 1237.0 1254.8 1272.8 1290.7" y="1206.5" font-size="25.5" text-anchor="middle" style='font-family:"Liberation Serif", serif'>GAAC<tspan font-weight="bold">A</tspan>CAA<tspan fill="#f21218">T</tspan>GCATAGA<tspan fill="#f21218">T</tspan>TGC</text>
<text x="950.6 968.5 986.4 1004.3 1022.2 1040.1 1058.0 1075.9 1093.8 1111.7 1129.6 1147.5 1165.4 1183.2 1201.2 1219.1 1237.0 1254.8 1272.8 1290.7" y="1251.7" font-size="25.5" text-anchor="middle" style='font-family:"Liberation Serif", serif'><tspan fill="#f21218">C</tspan><tspan fill="#f21218">C</tspan>A<tspan fill="#f21218">A</tspan><tspan font-weight="bold">A</tspan>CAAA<tspan fill="#f21218">A</tspan>CATAGACTGC</text>
<text x="950.6 968.5 986.4 1004.3 1022.2 1040.1 1058.0 1075.9 1093.8 1111.7 1129.6 1147.5 1165.4 1183.2 1201.2 1219.1 1237.0 1254.8 1272.8 1290.7" y="1297.6" font-size="25.5" text-anchor="middle" style='font-family:"Liberation Serif", serif'><tspan fill="#f21218">C</tspan><tspan fill="#f21218">A</tspan>CCC<tspan font-weight="bold">A</tspan>GACTGAGCACGTG<tspan fill="#f21218">C</tspan></text>
<text x="950.6 968.5 986.4 1004.3 1022.2 1040.1 1058.0 1075.9 1093.8 1111.7 1129.6 1147.5 1165.4 1183.2 1201.2 1219.1 1237.0 1254.8 1272.8 1290.7" y="1342.9" font-size="25.5" text-anchor="middle" style='font-family:"Liberation Serif", serif'>G<tspan fill="#f21218">A</tspan>C<tspan fill="#f21218">A</tspan>C<tspan font-weight="bold">A</tspan>GAC<tspan fill="#f21218">C</tspan>G<tspan fill="#f21218">G</tspan>GCACGTGA</text>
<text x="950.6 968.5 986.4 1004.3 1022.2 1040.1 1058.0 1075.9 1093.8 1111.7 1129.6 1147.5 1165.4 1183.2 1201.2 1219.1 1237.0 1254.8 1272.8 1290.7" y="1388.8" font-size="25.5" text-anchor="middle" style='font-family:"Liberation Serif", serif'><tspan fill="#f21218">A</tspan>AAG<tspan font-weight="bold">A</tspan>CCAAGGATAGACTG<tspan fill="#f21218">A</tspan></text>
<text x="1714.5" y="1208.8" font-size="27.6" text-anchor="middle" textLength="339.8" lengthAdjust="spacingAndGlyphs">Gaudelli (2017); Tsai (2015)</text>
<text x="1715.9" y="1254.3" font-size="27.6" text-anchor="middle" textLength="334.6" lengthAdjust="spacingAndGlyphs">Chen (2022); Kuscu (2014)</text>
<text x="1705.1" y="1299.9" font-size="27.6" text-anchor="middle" textLength="651.2" lengthAdjust="spacingAndGlyphs">Gaudelli (2017 -H3.0_OffT1); Tsai (2015 -H3.0_OffT2)</text>
<text x="1701.1" y="1345.4" font-size="27.6" text-anchor="middle" textLength="338.0" lengthAdjust="spacingAndGlyphs">Gaudelli (2017); Tsai (2015)</text>
<text x="1715.4" y="1391.0" font-size="27.6" text-anchor="middle" textLength="326.7" lengthAdjust="spacingAndGlyphs">Cowan (2025); Hsu (2013)</text>
<text x="374.2" y="1479.0" font-size="25.5" text-anchor="middle" textLength="467.8" lengthAdjust="spacingAndGlyphs">Hi.0 comparison of gRNA-dependent</text>
<text x="374.2" y="1511.7" font-size="25.5" text-anchor="middle" textLength="393.0" lengthAdjust="spacingAndGlyphs">off-target and on-target editing</text>
<text x="22.9" y="1745.3" font-size="27.5" text-anchor="middle" textLength="234.0" lengthAdjust="spacingAndGlyphs" transform="rotate(-90 22.9 1745.3)">Sequencing reads</text>
<text x="57.1" y="1745.0" font-size="27.5" text-anchor="middle" textLength="381.0" lengthAdjust="spacingAndGlyphs" transform="rotate(-90 57.1 1745.0)">with A•T to G•C conversion (%)</text>
<line x1="124.5" y1="1534.0" x2="124.5" y2="1725.8" stroke="#000" stroke-width="1.6" />
<line x1="113.0" y1="1534.8" x2="124.5" y2="1534.8" stroke="#000" stroke-width="1.6" />
<text x="103.2" y="1543.6" font-size="23.7" text-anchor="end" textLength="30.0" lengthAdjust="spacingAndGlyphs">40</text>
<line x1="113.0" y1="1597.5" x2="124.5" y2="1597.5" stroke="#000" stroke-width="1.6" />
<text x="103.2" y="1606.3" font-size="23.7" text-anchor="end" textLength="30.0" lengthAdjust="spacingAndGlyphs">30</text>
<line x1="113.0" y1="1660.3" x2="124.5" y2="1660.3" stroke="#000" stroke-width="1.6" />
<text x="103.2" y="1669.1" font-size="23.7" text-anchor="end" textLength="30.0" lengthAdjust="spacingAndGlyphs">20</text>
<line x1="118.0" y1="1725.0" x2="131.0" y2="1725.0" stroke="#000" stroke-width="1.6" />
<text x="103.2" y="1733.8" font-size="23.7" text-anchor="end" textLength="25.3" lengthAdjust="spacingAndGlyphs">10</text>
<line x1="124.5" y1="1765.9" x2="124.5" y2="1963.3" stroke="#000" stroke-width="1.6" />
<line x1="118.0" y1="1766.7" x2="131.0" y2="1766.7" stroke="#000" stroke-width="1.6" />
<text x="103.2" y="1775.5" font-size="23.7" text-anchor="end" textLength="15.9" lengthAdjust="spacingAndGlyphs">6</text>
<line x1="113.0" y1="1833.4" x2="124.5" y2="1833.4" stroke="#000" stroke-width="1.6" />
<text x="103.2" y="1842.2" font-size="23.7" text-anchor="end" textLength="15.9" lengthAdjust="spacingAndGlyphs">4</text>
<line x1="113.0" y1="1897.6" x2="124.5" y2="1897.6" stroke="#000" stroke-width="1.6" />
<text x="103.2" y="1906.4" font-size="23.7" text-anchor="end" textLength="15.9" lengthAdjust="spacingAndGlyphs">2</text>
<line x1="113.0" y1="1962.5" x2="124.5" y2="1962.5" stroke="#000" stroke-width="1.6" />
<text x="103.2" y="1971.3" font-size="23.7" text-anchor="end" textLength="15.9" lengthAdjust="spacingAndGlyphs">0</text>
<line x1="113.3" y1="1962.5" x2="628.0" y2="1962.5" stroke="#000" stroke-width="1.6" />
<line x1="144.8" y1="1962.5" x2="144.8" y2="1974.6" stroke="#000" stroke-width="1.6" />
<line x1="174.2" y1="1962.5" x2="174.2" y2="1974.6" stroke="#000" stroke-width="1.6" />
<line x1="203.4" y1="1962.5" x2="203.4" y2="1974.6" stroke="#000" stroke-width="1.6" />
<line x1="232.9" y1="1962.5" x2="232.9" y2="1974.6" stroke="#000" stroke-width="1.6" />
<line x1="262.5" y1="1962.5" x2="262.5" y2="1974.6" stroke="#000" stroke-width="1.6" />
<line x1="291.7" y1="1962.5" x2="291.7" y2="1974.6" stroke="#000" stroke-width="1.6" />
<line x1="321.0" y1="1962.5" x2="321.0" y2="1974.6" stroke="#000" stroke-width="1.6" />
<line x1="350.4" y1="1962.5" x2="350.4" y2="1974.6" stroke="#000" stroke-width="1.6" />
<line x1="399.6" y1="1962.5" x2="399.6" y2="1974.6" stroke="#000" stroke-width="1.6" />
<line x1="429.0" y1="1962.5" x2="429.0" y2="1974.6" stroke="#000" stroke-width="1.6" />
<line x1="458.4" y1="1962.5" x2="458.4" y2="1974.6" stroke="#000" stroke-width="1.6" />
<line x1="488.1" y1="1962.5" x2="488.1" y2="1974.6" stroke="#000" stroke-width="1.6" />
<line x1="517.3" y1="1962.5" x2="517.3" y2="1974.6" stroke="#000" stroke-width="1.6" />
<line x1="547.0" y1="1962.5" x2="547.0" y2="1974.6" stroke="#000" stroke-width="1.6" />
<line x1="576.5" y1="1962.5" x2="576.5" y2="1974.6" stroke="#000" stroke-width="1.6" />
<line x1="605.7" y1="1962.5" x2="605.7" y2="1974.6" stroke="#000" stroke-width="1.6" />
<rect x="390.8" y="1676.5" width="17.6" height="286.0" fill="#7b9fd6" stroke="#111" stroke-width="1.3" />
<rect x="165.4" y="1925.5" width="17.6" height="37.0" fill="#c2d67c" stroke="#111" stroke-width="1.3" />
<rect x="165.4" y="1925.5" width="17.6" height="37.0" fill="url(#h1)" stroke="#111" stroke-width="1.3" />
<rect x="420.2" y="1612.3" width="17.6" height="350.2" fill="#c2d67c" stroke="#111" stroke-width="1.3" />
<rect x="194.6" y="1906.2" width="17.6" height="56.3" fill="#7f8272" stroke="#111" stroke-width="1.3" />
<rect x="194.6" y="1906.2" width="17.6" height="56.3" fill="url(#h1)" stroke="#111" stroke-width="1.3" />
<rect x="449.6" y="1606.2" width="17.6" height="356.3" fill="#7f8272" stroke="#111" stroke-width="1.3" />
<rect x="224.1" y="1910.3" width="17.6" height="52.2" fill="#9ba9bd" stroke="#111" stroke-width="1.3" />
<rect x="224.1" y="1910.3" width="17.6" height="52.2" fill="url(#h1)" stroke="#111" stroke-width="1.3" />
<rect x="479.3" y="1612.3" width="17.6" height="350.2" fill="#9ba9bd" stroke="#111" stroke-width="1.3" />
<rect x="253.7" y="1908.1" width="17.6" height="54.4" fill="#6ec8b4" stroke="#111" stroke-width="1.3" />
<rect x="253.7" y="1908.1" width="17.6" height="54.4" fill="url(#h1)" stroke="#111" stroke-width="1.3" />
<rect x="508.5" y="1615.7" width="17.6" height="346.8" fill="#6ec8b4" stroke="#111" stroke-width="1.3" />
<rect x="282.9" y="1814.3" width="17.6" height="148.2" fill="#e991ea" stroke="#111" stroke-width="1.3" />
<rect x="282.9" y="1814.3" width="17.6" height="148.2" fill="url(#h1)" stroke="#111" stroke-width="1.3" />
<rect x="538.2" y="1634.5" width="17.6" height="328.0" fill="#e991ea" stroke="#111" stroke-width="1.3" />
<rect x="312.2" y="1862.2" width="17.6" height="100.3" fill="#e0707c" stroke="#111" stroke-width="1.3" />
<rect x="312.2" y="1862.2" width="17.6" height="100.3" fill="url(#h1)" stroke="#111" stroke-width="1.3" />
<rect x="567.7" y="1627.5" width="17.6" height="335.0" fill="#e0707c" stroke="#111" stroke-width="1.3" />
<line x1="399.6" y1="1656.2" x2="399.6" y2="1693.2" stroke="#000" stroke-width="1.5" />
<line x1="395.0" y1="1656.2" x2="404.2" y2="1656.2" stroke="#000" stroke-width="1.5" />
<line x1="395.0" y1="1693.2" x2="404.2" y2="1693.2" stroke="#000" stroke-width="1.5" />
<line x1="174.2" y1="1913.2" x2="174.2" y2="1932.8" stroke="#000" stroke-width="1.5" />
<line x1="169.6" y1="1913.2" x2="178.8" y2="1913.2" stroke="#000" stroke-width="1.5" />
<line x1="169.6" y1="1932.8" x2="178.8" y2="1932.8" stroke="#000" stroke-width="1.5" />
<line x1="429.0" y1="1595.4" x2="429.0" y2="1626.2" stroke="#000" stroke-width="1.5" />
<line x1="424.4" y1="1595.4" x2="433.6" y2="1595.4" stroke="#000" stroke-width="1.5" />
<line x1="424.4" y1="1626.2" x2="433.6" y2="1626.2" stroke="#000" stroke-width="1.5" />
<line x1="203.4" y1="1875.5" x2="203.4" y2="1932.8" stroke="#000" stroke-width="1.5" />
<line x1="198.8" y1="1875.5" x2="208.0" y2="1875.5" stroke="#000" stroke-width="1.5" />
<line x1="198.8" y1="1932.8" x2="208.0" y2="1932.8" stroke="#000" stroke-width="1.5" />
<line x1="458.4" y1="1577.2" x2="458.4" y2="1630.9" stroke="#000" stroke-width="1.5" />
<line x1="453.8" y1="1577.2" x2="463.0" y2="1577.2" stroke="#000" stroke-width="1.5" />
<line x1="453.8" y1="1630.9" x2="463.0" y2="1630.9" stroke="#000" stroke-width="1.5" />
<line x1="232.9" y1="1897.2" x2="232.9" y2="1920.4" stroke="#000" stroke-width="1.5" />
<line x1="228.3" y1="1897.2" x2="237.5" y2="1897.2" stroke="#000" stroke-width="1.5" />
<line x1="228.3" y1="1920.4" x2="237.5" y2="1920.4" stroke="#000" stroke-width="1.5" />
<line x1="488.1" y1="1580.6" x2="488.1" y2="1641.4" stroke="#000" stroke-width="1.5" />
<line x1="483.5" y1="1580.6" x2="492.7" y2="1580.6" stroke="#000" stroke-width="1.5" />
<line x1="483.5" y1="1641.4" x2="492.7" y2="1641.4" stroke="#000" stroke-width="1.5" />
<line x1="262.5" y1="1892.9" x2="262.5" y2="1921.2" stroke="#000" stroke-width="1.5" />
<line x1="257.9" y1="1892.9" x2="267.1" y2="1892.9" stroke="#000" stroke-width="1.5" />
<line x1="257.9" y1="1921.2" x2="267.1" y2="1921.2" stroke="#000" stroke-width="1.5" />
<line x1="517.3" y1="1585.9" x2="517.3" y2="1642.2" stroke="#000" stroke-width="1.5" />
<line x1="512.7" y1="1585.9" x2="521.9" y2="1585.9" stroke="#000" stroke-width="1.5" />
<line x1="512.7" y1="1642.2" x2="521.9" y2="1642.2" stroke="#000" stroke-width="1.5" />
<line x1="291.7" y1="1793.6" x2="291.7" y2="1834.9" stroke="#000" stroke-width="1.5" />
<line x1="287.1" y1="1793.6" x2="296.3" y2="1793.6" stroke="#000" stroke-width="1.5" />
<line x1="287.1" y1="1834.9" x2="296.3" y2="1834.9" stroke="#000" stroke-width="1.5" />
<line x1="547.0" y1="1611.3" x2="547.0" y2="1652.6" stroke="#000" stroke-width="1.5" />
<line x1="542.4" y1="1611.3" x2="551.6" y2="1611.3" stroke="#000" stroke-width="1.5" />
<line x1="542.4" y1="1652.6" x2="551.6" y2="1652.6" stroke="#000" stroke-width="1.5" />
<line x1="321.0" y1="1830.1" x2="321.0" y2="1890.7" stroke="#000" stroke-width="1.5" />
<line x1="316.4" y1="1830.1" x2="325.6" y2="1830.1" stroke="#000" stroke-width="1.5" />
<line x1="316.4" y1="1890.7" x2="325.6" y2="1890.7" stroke="#000" stroke-width="1.5" />
<line x1="576.5" y1="1597.5" x2="576.5" y2="1654.5" stroke="#000" stroke-width="1.5" />
<line x1="571.9" y1="1597.5" x2="581.1" y2="1597.5" stroke="#000" stroke-width="1.5" />
<line x1="571.9" y1="1654.5" x2="581.1" y2="1654.5" stroke="#000" stroke-width="1.5" />
<ellipse cx="137.0" cy="1957.4" rx="3.9" ry="4.9" fill="#000"/>
<ellipse cx="144.2" cy="1954.8" rx="3.9" ry="4.9" fill="#000"/>
<ellipse cx="151.4" cy="1957.0" rx="3.9" ry="4.9" fill="#000"/>
<ellipse cx="173.6" cy="1913.5" rx="3.9" ry="4.9" fill="#000"/>
<ellipse cx="166.4" cy="1931.7" rx="3.9" ry="4.9" fill="#000"/>
<ellipse cx="181.2" cy="1925.9" rx="3.9" ry="4.9" fill="#000"/>
<ellipse cx="202.9" cy="1874.8" rx="3.9" ry="4.9" fill="#000"/>
<ellipse cx="202.9" cy="1908.8" rx="3.9" ry="4.9" fill="#000"/>
<ellipse cx="202.9" cy="1929.9" rx="3.9" ry="4.9" fill="#000"/>
<ellipse cx="225.4" cy="1902.0" rx="3.9" ry="4.9" fill="#000"/>
<ellipse cx="239.9" cy="1902.3" rx="3.9" ry="4.9" fill="#000"/>
<ellipse cx="232.6" cy="1921.2" rx="3.9" ry="4.9" fill="#000"/>
<ellipse cx="262.0" cy="1891.9" rx="3.9" ry="4.9" fill="#000"/>
<ellipse cx="262.0" cy="1909.6" rx="3.9" ry="4.9" fill="#000"/>
<ellipse cx="262.0" cy="1918.3" rx="3.9" ry="4.9" fill="#000"/>
<ellipse cx="284.3" cy="1801.6" rx="3.9" ry="4.9" fill="#000"/>
<ellipse cx="298.8" cy="1802.6" rx="3.9" ry="4.9" fill="#000"/>
<ellipse cx="291.3" cy="1834.9" rx="3.9" ry="4.9" fill="#000"/>
<ellipse cx="320.6" cy="1825.2" rx="3.9" ry="4.9" fill="#000"/>
<ellipse cx="320.6" cy="1873.0" rx="3.9" ry="4.9" fill="#000"/>
<ellipse cx="320.6" cy="1882.8" rx="3.9" ry="4.9" fill="#000"/>
<ellipse cx="343.5" cy="1962.8" rx="3.9" ry="4.9" fill="#000"/>
<ellipse cx="350.4" cy="1962.0" rx="3.9" ry="4.9" fill="#000"/>
<ellipse cx="357.7" cy="1962.5" rx="3.9" ry="4.9" fill="#000"/>
<ellipse cx="399.6" cy="1655.5" rx="3.9" ry="4.9" fill="#000"/>
<ellipse cx="399.6" cy="1678.0" rx="3.9" ry="4.9" fill="#000"/>
<ellipse cx="399.6" cy="1692.5" rx="3.9" ry="4.9" fill="#000"/>
<ellipse cx="429.0" cy="1593.2" rx="3.9" ry="4.9" fill="#000"/>
<ellipse cx="421.4" cy="1621.2" rx="3.9" ry="4.9" fill="#000"/>
<ellipse cx="436.4" cy="1617.4" rx="3.9" ry="4.9" fill="#000"/>
<ellipse cx="458.3" cy="1575.8" rx="3.9" ry="4.9" fill="#000"/>
<ellipse cx="458.3" cy="1608.0" rx="3.9" ry="4.9" fill="#000"/>
<ellipse cx="458.3" cy="1628.4" rx="3.9" ry="4.9" fill="#000"/>
<ellipse cx="487.7" cy="1588.8" rx="3.9" ry="4.9" fill="#000"/>
<ellipse cx="487.7" cy="1599.0" rx="3.9" ry="4.9" fill="#000"/>
<ellipse cx="487.7" cy="1646.1" rx="3.9" ry="4.9" fill="#000"/>
<ellipse cx="517.2" cy="1581.6" rx="3.9" ry="4.9" fill="#000"/>
<ellipse cx="509.9" cy="1631.9" rx="3.9" ry="4.9" fill="#000"/>
<ellipse cx="524.6" cy="1628.0" rx="3.9" ry="4.9" fill="#000"/>
<ellipse cx="546.7" cy="1611.0" rx="3.9" ry="4.9" fill="#000"/>
<ellipse cx="546.7" cy="1636.7" rx="3.9" ry="4.9" fill="#000"/>
<ellipse cx="546.7" cy="1651.9" rx="3.9" ry="4.9" fill="#000"/>
<ellipse cx="576.1" cy="1593.2" rx="3.9" ry="4.9" fill="#000"/>
<ellipse cx="568.8" cy="1644.9" rx="3.9" ry="4.9" fill="#000"/>
<ellipse cx="583.8" cy="1639.9" rx="3.9" ry="4.9" fill="#000"/>
<ellipse cx="598.3" cy="1962.5" rx="3.9" ry="4.9" fill="#000"/>
<ellipse cx="605.7" cy="1961.8" rx="3.9" ry="4.9" fill="#000"/>
<ellipse cx="613.0" cy="1962.5" rx="3.9" ry="4.9" fill="#000"/>
<text x="150.2" y="1986.5" font-size="23" text-anchor="end" textLength="83.0" lengthAdjust="spacingAndGlyphs" transform="rotate(-90 150.2 1986.5)">ABE7.10</text>
<text x="179.6" y="1986.5" font-size="23" text-anchor="end" textLength="121.9" lengthAdjust="spacingAndGlyphs" transform="rotate(-90 179.6 1986.5)">ABE7.10-HK</text>
<text x="208.8" y="1986.5" font-size="23" text-anchor="end" textLength="135.9" lengthAdjust="spacingAndGlyphs" transform="rotate(-90 208.8 1986.5)">ABE7.10-HSK</text>
<text x="238.3" y="1986.5" font-size="23" text-anchor="end" textLength="152.6" lengthAdjust="spacingAndGlyphs" transform="rotate(-90 238.3 1986.5)">ABE7.10-HHSK</text>
<text x="267.9" y="1986.5" font-size="23" text-anchor="end" textLength="166.9" lengthAdjust="spacingAndGlyphs" transform="rotate(-90 267.9 1986.5)">ABE7.10-HRHSK</text>
<text x="297.1" y="1986.5" font-size="23" text-anchor="end" textLength="66.0" lengthAdjust="spacingAndGlyphs" transform="rotate(-90 297.1 1986.5)">ABE8e</text>
<text x="326.4" y="1986.5" font-size="23" text-anchor="end" textLength="87.7" lengthAdjust="spacingAndGlyphs" transform="rotate(-90 326.4 1986.5)">ABE8.20</text>
<text x="355.8" y="1986.5" font-size="23" text-anchor="end" textLength="26.4" lengthAdjust="spacingAndGlyphs" transform="rotate(-90 355.8 1986.5)">NT</text>
<text x="405.0" y="1986.5" font-size="23" text-anchor="end" textLength="83.0" lengthAdjust="spacingAndGlyphs" transform="rotate(-90 405.0 1986.5)">ABE7.10</text>
<text x="434.4" y="1986.5" font-size="23" text-anchor="end" textLength="121.9" lengthAdjust="spacingAndGlyphs" transform="rotate(-90 434.4 1986.5)">ABE7.10-HK</text>
<text x="463.8" y="1986.5" font-size="23" text-anchor="end" textLength="135.9" lengthAdjust="spacingAndGlyphs" transform="rotate(-90 463.8 1986.5)">ABE7.10-HSK</text>
<text x="493.5" y="1986.5" font-size="23" text-anchor="end" textLength="152.6" lengthAdjust="spacingAndGlyphs" transform="rotate(-90 493.5 1986.5)">ABE7.10-HHSK</text>
<text x="522.7" y="1986.5" font-size="23" text-anchor="end" textLength="166.9" lengthAdjust="spacingAndGlyphs" transform="rotate(-90 522.7 1986.5)">ABE7.10-HRHSK</text>
<text x="552.4" y="1986.5" font-size="23" text-anchor="end" textLength="66.0" lengthAdjust="spacingAndGlyphs" transform="rotate(-90 552.4 1986.5)">ABE8e</text>
<text x="581.9" y="1986.5" font-size="23" text-anchor="end" textLength="87.7" lengthAdjust="spacingAndGlyphs" transform="rotate(-90 581.9 1986.5)">ABE8.20</text>
<text x="611.1" y="1986.5" font-size="23" text-anchor="end" textLength="26.4" lengthAdjust="spacingAndGlyphs" transform="rotate(-90 611.1 1986.5)">NT</text>
<rect x="156.0" y="1531.0" width="24.6" height="18.6" fill="#d4d4d4" stroke="#222" stroke-width="1.3" />
<rect x="156.0" y="1531.0" width="24.6" height="18.6" fill="url(#h1)" stroke="#222" stroke-width="1.3" />
<text x="192.1" y="1549.7" font-size="27.2" textLength="72.0" lengthAdjust="spacingAndGlyphs">Off-T1</text>
<rect x="156.0" y="1580.5" width="24.6" height="18.6" fill="#d4d4d4" stroke="#222" stroke-width="1.3" />
<text x="192.1" y="1600.6" font-size="27.2" textLength="35.0" lengthAdjust="spacingAndGlyphs">On</text>
<text x="1085.3" y="1479.6" font-size="25.5" text-anchor="middle" textLength="477.0" lengthAdjust="spacingAndGlyphs">H2.0 comparison of gRNA-dependent</text>
<text x="1085.3" y="1511.9" font-size="25.5" text-anchor="middle" textLength="393.0" lengthAdjust="spacingAndGlyphs">off-target and on-target editing</text>
<text x="675.5" y="1749.3" font-size="27.5" text-anchor="middle" textLength="234.0" lengthAdjust="spacingAndGlyphs" transform="rotate(-90 675.5 1749.3)">Sequencing reads</text>
<text x="709.5" y="1750.5" font-size="27.5" text-anchor="middle" textLength="381.0" lengthAdjust="spacingAndGlyphs" transform="rotate(-90 709.5 1750.5)">with A•T to G•C conversion (%)</text>
<line x1="779.3" y1="1533.3" x2="779.3" y2="1683.0" stroke="#000" stroke-width="1.6" />
<line x1="767.8" y1="1534.1" x2="779.3" y2="1534.1" stroke="#000" stroke-width="1.6" />
<text x="758.0" y="1542.9" font-size="23.7" text-anchor="end" textLength="30.0" lengthAdjust="spacingAndGlyphs">40</text>
<line x1="767.8" y1="1582.5" x2="779.3" y2="1582.5" stroke="#000" stroke-width="1.6" />
<text x="758.0" y="1591.3" font-size="23.7" text-anchor="end" textLength="30.0" lengthAdjust="spacingAndGlyphs">30</text>
<line x1="767.8" y1="1631.4" x2="779.3" y2="1631.4" stroke="#000" stroke-width="1.6" />
<text x="758.0" y="1640.2" font-size="23.7" text-anchor="end" textLength="30.0" lengthAdjust="spacingAndGlyphs">20</text>
<line x1="772.8" y1="1682.2" x2="785.8" y2="1682.2" stroke="#000" stroke-width="1.6" />
<text x="758.0" y="1691.0" font-size="23.7" text-anchor="end" textLength="25.3" lengthAdjust="spacingAndGlyphs">10</text>
<line x1="779.3" y1="1732.7" x2="779.3" y2="1963.4" stroke="#000" stroke-width="1.6" />
<line x1="772.8" y1="1733.5" x2="785.8" y2="1733.5" stroke="#000" stroke-width="1.6" />
<text x="758.0" y="1742.3" font-size="23.7" text-anchor="end" textLength="31.2" lengthAdjust="spacingAndGlyphs">1.5</text>
<line x1="767.8" y1="1810.6" x2="779.3" y2="1810.6" stroke="#000" stroke-width="1.6" />
<text x="758.0" y="1819.4" font-size="23.7" text-anchor="end" textLength="31.2" lengthAdjust="spacingAndGlyphs">1.0</text>
<line x1="767.8" y1="1886.5" x2="779.3" y2="1886.5" stroke="#000" stroke-width="1.6" />
<text x="758.0" y="1895.3" font-size="23.7" text-anchor="end" textLength="36.0" lengthAdjust="spacingAndGlyphs">0.5</text>
<line x1="767.8" y1="1962.6" x2="779.3" y2="1962.6" stroke="#000" stroke-width="1.6" />
<text x="758.0" y="1971.4" font-size="23.7" text-anchor="end" textLength="15.9" lengthAdjust="spacingAndGlyphs">0</text>
<line x1="768.4" y1="1962.6" x2="1393.4" y2="1962.6" stroke="#000" stroke-width="1.6" />
<line x1="794.6" y1="1962.6" x2="794.6" y2="1974.6" stroke="#000" stroke-width="1.6" />
<line x1="818.5" y1="1962.6" x2="818.5" y2="1974.6" stroke="#000" stroke-width="1.6" />
<line x1="842.3" y1="1962.6" x2="842.3" y2="1974.6" stroke="#000" stroke-width="1.6" />
<line x1="866.2" y1="1962.6" x2="866.2" y2="1974.6" stroke="#000" stroke-width="1.6" />
<line x1="890.1" y1="1962.6" x2="890.1" y2="1974.6" stroke="#000" stroke-width="1.6" />
<line x1="914.0" y1="1962.6" x2="914.0" y2="1974.6" stroke="#000" stroke-width="1.6" />
<line x1="937.8" y1="1962.6" x2="937.8" y2="1974.6" stroke="#000" stroke-width="1.6" />
<line x1="961.7" y1="1962.6" x2="961.7" y2="1974.6" stroke="#000" stroke-width="1.6" />
<line x1="1001.0" y1="1962.6" x2="1001.0" y2="1974.6" stroke="#000" stroke-width="1.6" />
<line x1="1024.9" y1="1962.6" x2="1024.9" y2="1974.6" stroke="#000" stroke-width="1.6" />
<line x1="1048.7" y1="1962.6" x2="1048.7" y2="1974.6" stroke="#000" stroke-width="1.6" />
<line x1="1072.6" y1="1962.6" x2="1072.6" y2="1974.6" stroke="#000" stroke-width="1.6" />
<line x1="1096.5" y1="1962.6" x2="1096.5" y2="1974.6" stroke="#000" stroke-width="1.6" />
<line x1="1120.3" y1="1962.6" x2="1120.3" y2="1974.6" stroke="#000" stroke-width="1.6" />
<line x1="1144.2" y1="1962.6" x2="1144.2" y2="1974.6" stroke="#000" stroke-width="1.6" />
<line x1="1168.1" y1="1962.6" x2="1168.1" y2="1974.6" stroke="#000" stroke-width="1.6" />
<line x1="1207.6" y1="1962.6" x2="1207.6" y2="1974.6" stroke="#000" stroke-width="1.6" />
<line x1="1231.8" y1="1962.6" x2="1231.8" y2="1974.6" stroke="#000" stroke-width="1.6" />
<line x1="1255.3" y1="1962.6" x2="1255.3" y2="1974.6" stroke="#000" stroke-width="1.6" />
<line x1="1279.3" y1="1962.6" x2="1279.3" y2="1974.6" stroke="#000" stroke-width="1.6" />
<line x1="1303.2" y1="1962.6" x2="1303.2" y2="1974.6" stroke="#000" stroke-width="1.6" />
<line x1="1327.2" y1="1962.6" x2="1327.2" y2="1974.6" stroke="#000" stroke-width="1.6" />
<line x1="1350.7" y1="1962.6" x2="1350.7" y2="1974.6" stroke="#000" stroke-width="1.6" />
<line x1="1374.4" y1="1962.6" x2="1374.4" y2="1974.6" stroke="#000" stroke-width="1.6" />
<rect x="907.4" y="1946.0" width="13.2" height="16.6" fill="#e991ea" stroke="#111" stroke-width="1.3" />
<rect x="907.4" y="1946.0" width="13.2" height="16.6" fill="url(#h1)" stroke="#111" stroke-width="1.3" />
<rect x="931.2" y="1955.8" width="13.2" height="6.8" fill="#e0707c" stroke="#111" stroke-width="1.3" />
<rect x="931.2" y="1955.8" width="13.2" height="6.8" fill="url(#h1)" stroke="#111" stroke-width="1.3" />
<rect x="1113.8" y="1954.0" width="13.2" height="8.6" fill="#e991ea" stroke="#111" stroke-width="1.3" />
<rect x="1113.8" y="1954.0" width="13.2" height="8.6" fill="url(#h2)" stroke="#111" stroke-width="1.3" />
<rect x="1200.6" y="1563.3" width="14.0" height="399.3" fill="#7b9fd6" stroke="#111" stroke-width="1.3" />
<rect x="1224.8" y="1581.9" width="14.0" height="380.7" fill="#c2d67c" stroke="#111" stroke-width="1.3" />
<rect x="1248.3" y="1591.2" width="14.0" height="371.4" fill="#7f8272" stroke="#111" stroke-width="1.3" />
<rect x="1272.3" y="1587.1" width="14.0" height="375.5" fill="#9ba9bd" stroke="#111" stroke-width="1.3" />
<rect x="1296.2" y="1590.2" width="14.0" height="372.4" fill="#6ec8b4" stroke="#111" stroke-width="1.3" />
<rect x="1320.2" y="1601.8" width="14.0" height="360.8" fill="#e991ea" stroke="#111" stroke-width="1.3" />
<rect x="1343.7" y="1578.2" width="14.0" height="384.4" fill="#e0707c" stroke="#111" stroke-width="1.3" />
<rect x="1367.4" y="1897.0" width="14.0" height="65.6" fill="#d0d0d0" stroke="#111" stroke-width="1.3" />
<line x1="779.3" y1="1948.5" x2="1395.0" y2="1948.5" stroke="#000" stroke-width="2.0" stroke-dasharray="8 8.1"/>
<rect x="1367.4" y="1897.0" width="14.0" height="65.6" fill="#d0d0d0" stroke="#111" stroke-width="1.3" />
<line x1="1207.6" y1="1554.2" x2="1207.6" y2="1563.3" stroke="#000" stroke-width="1.5" />
<line x1="1203.0" y1="1554.2" x2="1212.2" y2="1554.2" stroke="#000" stroke-width="1.5" />
<line x1="1231.8" y1="1559.6" x2="1231.8" y2="1581.9" stroke="#000" stroke-width="1.5" />
<line x1="1227.2" y1="1559.6" x2="1236.4" y2="1559.6" stroke="#000" stroke-width="1.5" />
<line x1="1255.3" y1="1565.2" x2="1255.3" y2="1591.2" stroke="#000" stroke-width="1.5" />
<line x1="1250.7" y1="1565.2" x2="1259.9" y2="1565.2" stroke="#000" stroke-width="1.5" />
<line x1="1279.3" y1="1570.6" x2="1279.3" y2="1587.1" stroke="#000" stroke-width="1.5" />
<line x1="1274.7" y1="1570.6" x2="1283.9" y2="1570.6" stroke="#000" stroke-width="1.5" />
<line x1="1303.2" y1="1563.3" x2="1303.2" y2="1590.2" stroke="#000" stroke-width="1.5" />
<line x1="1298.6" y1="1563.3" x2="1307.8" y2="1563.3" stroke="#000" stroke-width="1.5" />
<line x1="1327.2" y1="1585.9" x2="1327.2" y2="1601.8" stroke="#000" stroke-width="1.5" />
<line x1="1322.6" y1="1585.9" x2="1331.8" y2="1585.9" stroke="#000" stroke-width="1.5" />
<line x1="1350.7" y1="1558.0" x2="1350.7" y2="1578.2" stroke="#000" stroke-width="1.5" />
<line x1="1346.1" y1="1558.0" x2="1355.3" y2="1558.0" stroke="#000" stroke-width="1.5" />
<line x1="1374.4" y1="1788.0" x2="1374.4" y2="1897.0" stroke="#000" stroke-width="1.5" />
<line x1="1369.8" y1="1788.0" x2="1379.0" y2="1788.0" stroke="#000" stroke-width="1.5" />
<circle cx="789.2" cy="1960.0" r="4.7" fill="#000"/>
<circle cx="794.6" cy="1959.6" r="4.7" fill="#000"/>
<circle cx="800.0" cy="1959.6" r="4.7" fill="#000"/>
<circle cx="813.1" cy="1961.8" r="4.7" fill="#000"/>
<circle cx="818.5" cy="1957.9" r="4.7" fill="#000"/>
<circle cx="823.9" cy="1957.9" r="4.7" fill="#000"/>
<circle cx="836.9" cy="1959.6" r="4.7" fill="#000"/>
<circle cx="842.3" cy="1954.7" r="4.7" fill="#000"/>
<circle cx="847.7" cy="1959.6" r="4.7" fill="#000"/>
<circle cx="860.8" cy="1960.6" r="4.7" fill="#000"/>
<circle cx="866.2" cy="1948.3" r="4.7" fill="#000"/>
<circle cx="871.6" cy="1959.6" r="4.7" fill="#000"/>
<circle cx="884.7" cy="1959.6" r="4.7" fill="#000"/>
<circle cx="890.1" cy="1954.7" r="4.7" fill="#000"/>
<circle cx="895.5" cy="1957.9" r="4.7" fill="#000"/>
<circle cx="908.5" cy="1936.3" r="4.7" fill="#000"/>
<circle cx="908.5" cy="1944.9" r="4.7" fill="#000"/>
<circle cx="918.7" cy="1942.6" r="4.7" fill="#000"/>
<circle cx="932.4" cy="1947.2" r="4.7" fill="#000"/>
<circle cx="942.6" cy="1953.3" r="4.7" fill="#000"/>
<circle cx="937.6" cy="1961.5" r="4.7" fill="#000"/>
<circle cx="956.3" cy="1961.3" r="4.7" fill="#000"/>
<circle cx="961.7" cy="1959.6" r="4.7" fill="#000"/>
<circle cx="967.1" cy="1959.6" r="4.7" fill="#000"/>
<circle cx="995.6" cy="1960.8" r="4.7" fill="#000"/>
<circle cx="1001.0" cy="1960.4" r="4.7" fill="#000"/>
<circle cx="1006.4" cy="1960.6" r="4.7" fill="#000"/>
<circle cx="1019.5" cy="1960.8" r="4.7" fill="#000"/>
<circle cx="1024.9" cy="1960.4" r="4.7" fill="#000"/>
<circle cx="1030.3" cy="1960.6" r="4.7" fill="#000"/>
<circle cx="1043.3" cy="1960.8" r="4.7" fill="#000"/>
<circle cx="1048.7" cy="1960.4" r="4.7" fill="#000"/>
<circle cx="1054.1" cy="1960.6" r="4.7" fill="#000"/>
<circle cx="1067.2" cy="1960.8" r="4.7" fill="#000"/>
<circle cx="1072.6" cy="1960.4" r="4.7" fill="#000"/>
<circle cx="1078.0" cy="1960.6" r="4.7" fill="#000"/>
<circle cx="1091.1" cy="1960.8" r="4.7" fill="#000"/>
<circle cx="1096.5" cy="1960.4" r="4.7" fill="#000"/>
<circle cx="1101.9" cy="1960.6" r="4.7" fill="#000"/>
<circle cx="1114.8" cy="1952.4" r="4.7" fill="#000"/>
<circle cx="1120.3" cy="1947.2" r="4.7" fill="#000"/>
<circle cx="1125.3" cy="1950.6" r="4.7" fill="#000"/>
<circle cx="1138.8" cy="1960.8" r="4.7" fill="#000"/>
<circle cx="1144.2" cy="1957.4" r="4.7" fill="#000"/>
<circle cx="1149.6" cy="1959.6" r="4.7" fill="#000"/>
<circle cx="1162.7" cy="1961.8" r="4.7" fill="#000"/>
<circle cx="1168.1" cy="1960.8" r="4.7" fill="#000"/>
<circle cx="1173.5" cy="1960.2" r="4.7" fill="#000"/>
<circle cx="1202.4" cy="1557.1" r="4.7" fill="#000"/>
<circle cx="1212.3" cy="1557.1" r="4.7" fill="#000"/>
<circle cx="1207.3" cy="1572.2" r="4.7" fill="#000"/>
<circle cx="1231.3" cy="1564.2" r="4.7" fill="#000"/>
<circle cx="1231.3" cy="1573.7" r="4.7" fill="#000"/>
<circle cx="1231.3" cy="1604.5" r="4.7" fill="#000"/>
<circle cx="1255.2" cy="1565.2" r="4.7" fill="#000"/>
<circle cx="1255.2" cy="1593.4" r="4.7" fill="#000"/>
<circle cx="1255.2" cy="1612.0" r="4.7" fill="#000"/>
<circle cx="1279.1" cy="1570.6" r="4.7" fill="#000"/>
<circle cx="1279.1" cy="1587.4" r="4.7" fill="#000"/>
<circle cx="1279.1" cy="1600.8" r="4.7" fill="#000"/>
<circle cx="1303.0" cy="1563.3" r="4.7" fill="#000"/>
<circle cx="1303.0" cy="1595.5" r="4.7" fill="#000"/>
<circle cx="1303.0" cy="1607.9" r="4.7" fill="#000"/>
<circle cx="1326.8" cy="1585.9" r="4.7" fill="#000"/>
<circle cx="1321.9" cy="1608.9" r="4.7" fill="#000"/>
<circle cx="1332.2" cy="1605.8" r="4.7" fill="#000"/>
<circle cx="1350.7" cy="1558.0" r="4.7" fill="#000"/>
<circle cx="1350.7" cy="1578.4" r="4.7" fill="#000"/>
<circle cx="1350.7" cy="1594.3" r="4.7" fill="#000"/>
<circle cx="1374.4" cy="1771.9" r="4.7" fill="#000"/>
<circle cx="1368.7" cy="1961.6" r="4.7" fill="#000"/>
<circle cx="1378.8" cy="1955.6" r="4.7" fill="#000"/>
<text x="800.0" y="1987.0" font-size="23" text-anchor="end" textLength="83.0" lengthAdjust="spacingAndGlyphs" transform="rotate(-90 800.0 1987.0)">ABE7.10</text>
<text x="823.9" y="1987.0" font-size="23" text-anchor="end" textLength="121.9" lengthAdjust="spacingAndGlyphs" transform="rotate(-90 823.9 1987.0)">ABE7.10-HK</text>
<text x="847.7" y="1987.0" font-size="23" text-anchor="end" textLength="135.9" lengthAdjust="spacingAndGlyphs" transform="rotate(-90 847.7 1987.0)">ABE7.10-HSK</text>
<text x="871.6" y="1987.0" font-size="23" text-anchor="end" textLength="152.6" lengthAdjust="spacingAndGlyphs" transform="rotate(-90 871.6 1987.0)">ABE7.10-HHSK</text>
<text x="895.5" y="1987.0" font-size="23" text-anchor="end" textLength="166.9" lengthAdjust="spacingAndGlyphs" transform="rotate(-90 895.5 1987.0)">ABE7.10-HRHSK</text>
<text x="919.4" y="1987.0" font-size="23" text-anchor="end" textLength="66.0" lengthAdjust="spacingAndGlyphs" transform="rotate(-90 919.4 1987.0)">ABE8e</text>
<text x="943.2" y="1987.0" font-size="23" text-anchor="end" textLength="87.7" lengthAdjust="spacingAndGlyphs" transform="rotate(-90 943.2 1987.0)">ABE8.20</text>
<text x="967.1" y="1987.0" font-size="23" text-anchor="end" textLength="26.4" lengthAdjust="spacingAndGlyphs" transform="rotate(-90 967.1 1987.0)">NT</text>
<text x="1006.4" y="1987.0" font-size="23" text-anchor="end" textLength="83.0" lengthAdjust="spacingAndGlyphs" transform="rotate(-90 1006.4 1987.0)">ABE7.10</text>
<text x="1030.3" y="1987.0" font-size="23" text-anchor="end" textLength="121.9" lengthAdjust="spacingAndGlyphs" transform="rotate(-90 1030.3 1987.0)">ABE7.10-HK</text>
<text x="1054.1" y="1987.0" font-size="23" text-anchor="end" textLength="135.9" lengthAdjust="spacingAndGlyphs" transform="rotate(-90 1054.1 1987.0)">ABE7.10-HSK</text>
<text x="1078.0" y="1987.0" font-size="23" text-anchor="end" textLength="152.6" lengthAdjust="spacingAndGlyphs" transform="rotate(-90 1078.0 1987.0)">ABE7.10-HHSK</text>
<text x="1101.9" y="1987.0" font-size="23" text-anchor="end" textLength="166.9" lengthAdjust="spacingAndGlyphs" transform="rotate(-90 1101.9 1987.0)">ABE7.10-HRHSK</text>
<text x="1125.8" y="1987.0" font-size="23" text-anchor="end" textLength="66.0" lengthAdjust="spacingAndGlyphs" transform="rotate(-90 1125.8 1987.0)">ABE8e</text>
<text x="1149.6" y="1987.0" font-size="23" text-anchor="end" textLength="87.7" lengthAdjust="spacingAndGlyphs" transform="rotate(-90 1149.6 1987.0)">ABE8.20</text>
<text x="1173.5" y="1987.0" font-size="23" text-anchor="end" textLength="26.4" lengthAdjust="spacingAndGlyphs" transform="rotate(-90 1173.5 1987.0)">NT</text>
<text x="1213.0" y="1987.0" font-size="23" text-anchor="end" textLength="83.0" lengthAdjust="spacingAndGlyphs" transform="rotate(-90 1213.0 1987.0)">ABE7.10</text>
<text x="1237.2" y="1987.0" font-size="23" text-anchor="end" textLength="121.9" lengthAdjust="spacingAndGlyphs" transform="rotate(-90 1237.2 1987.0)">ABE7.10-HK</text>
<text x="1260.7" y="1987.0" font-size="23" text-anchor="end" textLength="135.9" lengthAdjust="spacingAndGlyphs" transform="rotate(-90 1260.7 1987.0)">ABE7.10-HSK</text>
<text x="1284.7" y="1987.0" font-size="23" text-anchor="end" textLength="152.6" lengthAdjust="spacingAndGlyphs" transform="rotate(-90 1284.7 1987.0)">ABE7.10-HHSK</text>
<text x="1308.6" y="1987.0" font-size="23" text-anchor="end" textLength="166.9" lengthAdjust="spacingAndGlyphs" transform="rotate(-90 1308.6 1987.0)">ABE7.10-HRHSK</text>
<text x="1332.6" y="1987.0" font-size="23" text-anchor="end" textLength="66.0" lengthAdjust="spacingAndGlyphs" transform="rotate(-90 1332.6 1987.0)">ABE8e</text>
<text x="1356.1" y="1987.0" font-size="23" text-anchor="end" textLength="87.7" lengthAdjust="spacingAndGlyphs" transform="rotate(-90 1356.1 1987.0)">ABE8.20</text>
<text x="1379.8" y="1987.0" font-size="23" text-anchor="end" textLength="26.4" lengthAdjust="spacingAndGlyphs" transform="rotate(-90 1379.8 1987.0)">NT</text>
<rect x="817.2" y="1533.2" width="30.5" height="17.4" fill="#d4d4d4" stroke="#222" stroke-width="1.3" />
<rect x="817.2" y="1533.2" width="30.5" height="17.4" fill="url(#h1)" stroke="#222" stroke-width="1.3" />
<text x="858.0" y="1552.6" font-size="27.2" textLength="72.0" lengthAdjust="spacingAndGlyphs">Off-T1</text>
<rect x="817.2" y="1583.6" width="30.5" height="17.8" fill="#d4d4d4" stroke="#222" stroke-width="1.3" />
<rect x="817.2" y="1583.6" width="30.5" height="17.8" fill="url(#h2)" stroke="#222" stroke-width="1.3" />
<text x="858.0" y="1603.5" font-size="27.2" textLength="77.0" lengthAdjust="spacingAndGlyphs">Off-T3</text>
<rect x="817.2" y="1633.3" width="30.5" height="17.8" fill="#d4d4d4" stroke="#222" stroke-width="1.3" />
<text x="858.0" y="1654.8" font-size="27.2" textLength="35.0" lengthAdjust="spacingAndGlyphs">On</text>
<text x="1861.9" y="1479.5" font-size="25.5" text-anchor="middle" textLength="479.0" lengthAdjust="spacingAndGlyphs">H3.0 comparison of gRNA-dependent</text>
<text x="1861.9" y="1511.2" font-size="25.5" text-anchor="middle" textLength="393.0" lengthAdjust="spacingAndGlyphs">off-target and on-target editing</text>
<text x="1452.5" y="1753.5" font-size="27.5" text-anchor="middle" textLength="234.0" lengthAdjust="spacingAndGlyphs" transform="rotate(-90 1452.5 1753.5)">Sequencing reads</text>
<text x="1486.5" y="1754.0" font-size="27.5" text-anchor="middle" textLength="381.0" lengthAdjust="spacingAndGlyphs" transform="rotate(-90 1486.5 1754.0)">with A•T to G•C conversion (%)</text>
<line x1="1562.1" y1="1536.1" x2="1562.1" y2="1770.2" stroke="#000" stroke-width="1.6" />
<line x1="1550.6" y1="1536.9" x2="1562.1" y2="1536.9" stroke="#000" stroke-width="1.6" />
<text x="1540.8" y="1545.7" font-size="23.7" text-anchor="end" textLength="30.0" lengthAdjust="spacingAndGlyphs">40</text>
<line x1="1550.6" y1="1614.0" x2="1562.1" y2="1614.0" stroke="#000" stroke-width="1.6" />
<text x="1540.8" y="1622.8" font-size="23.7" text-anchor="end" textLength="30.0" lengthAdjust="spacingAndGlyphs">30</text>
<line x1="1550.6" y1="1690.7" x2="1562.1" y2="1690.7" stroke="#000" stroke-width="1.6" />
<text x="1540.8" y="1699.5" font-size="23.7" text-anchor="end" textLength="30.0" lengthAdjust="spacingAndGlyphs">20</text>
<line x1="1555.6" y1="1769.4" x2="1568.6" y2="1769.4" stroke="#000" stroke-width="1.6" />
<text x="1540.8" y="1778.2" font-size="23.7" text-anchor="end" textLength="25.3" lengthAdjust="spacingAndGlyphs">10</text>
<line x1="1562.1" y1="1806.6" x2="1562.1" y2="1964.0" stroke="#000" stroke-width="1.6" />
<line x1="1555.6" y1="1807.4" x2="1568.6" y2="1807.4" stroke="#000" stroke-width="1.6" />
<text x="1540.8" y="1816.2" font-size="23.7" text-anchor="end" textLength="31.2" lengthAdjust="spacingAndGlyphs">1.0</text>
<line x1="1555.1" y1="1847.7" x2="1562.1" y2="1847.7" stroke="#000" stroke-width="1.6" />
<line x1="1550.6" y1="1886.5" x2="1562.1" y2="1886.5" stroke="#000" stroke-width="1.6" />
<text x="1540.8" y="1895.3" font-size="23.7" text-anchor="end" textLength="36.0" lengthAdjust="spacingAndGlyphs">0.5</text>
<line x1="1555.1" y1="1925.2" x2="1562.1" y2="1925.2" stroke="#000" stroke-width="1.6" />
<line x1="1550.6" y1="1963.2" x2="1562.1" y2="1963.2" stroke="#000" stroke-width="1.6" />
<text x="1540.8" y="1972.0" font-size="23.7" text-anchor="end" textLength="15.9" lengthAdjust="spacingAndGlyphs">0</text>
<line x1="1550.3" y1="1963.2" x2="2164.0" y2="1963.2" stroke="#000" stroke-width="1.6" />
<line x1="1577.6" y1="1963.2" x2="1577.6" y2="1975.0" stroke="#000" stroke-width="1.6" />
<line x1="1600.9" y1="1963.2" x2="1600.9" y2="1975.0" stroke="#000" stroke-width="1.6" />
<line x1="1624.2" y1="1963.2" x2="1624.2" y2="1975.0" stroke="#000" stroke-width="1.6" />
<line x1="1647.6" y1="1963.2" x2="1647.6" y2="1975.0" stroke="#000" stroke-width="1.6" />
<line x1="1670.9" y1="1963.2" x2="1670.9" y2="1975.0" stroke="#000" stroke-width="1.6" />
<line x1="1694.2" y1="1963.2" x2="1694.2" y2="1975.0" stroke="#000" stroke-width="1.6" />
<line x1="1717.5" y1="1963.2" x2="1717.5" y2="1975.0" stroke="#000" stroke-width="1.6" />
<line x1="1740.8" y1="1963.2" x2="1740.8" y2="1975.0" stroke="#000" stroke-width="1.6" />
<line x1="1779.6" y1="1963.2" x2="1779.6" y2="1975.0" stroke="#000" stroke-width="1.6" />
<line x1="1803.0" y1="1963.2" x2="1803.0" y2="1975.0" stroke="#000" stroke-width="1.6" />
<line x1="1826.4" y1="1963.2" x2="1826.4" y2="1975.0" stroke="#000" stroke-width="1.6" />
<line x1="1849.7" y1="1963.2" x2="1849.7" y2="1975.0" stroke="#000" stroke-width="1.6" />
<line x1="1873.1" y1="1963.2" x2="1873.1" y2="1975.0" stroke="#000" stroke-width="1.6" />
<line x1="1896.5" y1="1963.2" x2="1896.5" y2="1975.0" stroke="#000" stroke-width="1.6" />
<line x1="1919.9" y1="1963.2" x2="1919.9" y2="1975.0" stroke="#000" stroke-width="1.6" />
<line x1="1943.3" y1="1963.2" x2="1943.3" y2="1975.0" stroke="#000" stroke-width="1.6" />
<line x1="1982.1" y1="1963.2" x2="1982.1" y2="1975.0" stroke="#000" stroke-width="1.6" />
<line x1="2005.9" y1="1963.2" x2="2005.9" y2="1975.0" stroke="#000" stroke-width="1.6" />
<line x1="2029.1" y1="1963.2" x2="2029.1" y2="1975.0" stroke="#000" stroke-width="1.6" />
<line x1="2052.9" y1="1963.2" x2="2052.9" y2="1975.0" stroke="#000" stroke-width="1.6" />
<line x1="2076.0" y1="1963.2" x2="2076.0" y2="1975.0" stroke="#000" stroke-width="1.6" />
<line x1="2099.2" y1="1963.2" x2="2099.2" y2="1975.0" stroke="#000" stroke-width="1.6" />
<line x1="2122.5" y1="1963.2" x2="2122.5" y2="1975.0" stroke="#000" stroke-width="1.6" />
<line x1="2145.8" y1="1963.2" x2="2145.8" y2="1975.0" stroke="#000" stroke-width="1.6" />
<rect x="1664.4" y="1961.2" width="13.0" height="2.0" fill="#6ec8b4" stroke="#111" stroke-width="1.3" />
<rect x="1664.4" y="1961.2" width="13.0" height="2.0" fill="url(#h1)" stroke="#111" stroke-width="1.3" />
<rect x="1687.6" y="1893.0" width="13.2" height="70.2" fill="#e991ea" stroke="#111" stroke-width="1.3" />
<rect x="1687.6" y="1893.0" width="13.2" height="70.2" fill="url(#h1)" stroke="#111" stroke-width="1.3" />
<rect x="1711.0" y="1957.9" width="13.0" height="5.3" fill="#e0707c" stroke="#111" stroke-width="1.3" />
<rect x="1711.0" y="1957.9" width="13.0" height="5.3" fill="url(#h1)" stroke="#111" stroke-width="1.3" />
<rect x="1889.8" y="1942.4" width="13.4" height="20.8" fill="#e991ea" stroke="#111" stroke-width="1.3" />
<rect x="1889.8" y="1942.4" width="13.4" height="20.8" fill="url(#h2)" stroke="#111" stroke-width="1.3" />
<rect x="1913.9" y="1960.2" width="12.0" height="3.0" fill="#e0707c" stroke="#111" stroke-width="1.3" />
<rect x="1913.9" y="1960.2" width="12.0" height="3.0" fill="url(#h2)" stroke="#111" stroke-width="1.3" />
<rect x="1975.3" y="1749.5" width="13.5" height="213.7" fill="#7b9fd6" stroke="#111" stroke-width="1.3" />
<rect x="1999.2" y="1720.5" width="13.5" height="242.7" fill="#c2d67c" stroke="#111" stroke-width="1.3" />
<rect x="2022.3" y="1747.3" width="13.5" height="215.9" fill="#7f8272" stroke="#111" stroke-width="1.3" />
<rect x="2046.2" y="1745.1" width="13.5" height="218.1" fill="#9ba9bd" stroke="#111" stroke-width="1.3" />
<rect x="2069.2" y="1728.2" width="13.5" height="235.0" fill="#6ec8b4" stroke="#111" stroke-width="1.3" />
<rect x="2092.4" y="1650.4" width="13.5" height="312.8" fill="#e991ea" stroke="#111" stroke-width="1.3" />
<rect x="2115.8" y="1659.2" width="13.5" height="304.0" fill="#e0707c" stroke="#111" stroke-width="1.3" />
<line x1="1562.1" y1="1947.8" x2="2164.0" y2="1947.8" stroke="#000" stroke-width="2.0" stroke-dasharray="8 8.1"/>
<line x1="1694.2" y1="1886.0" x2="1694.2" y2="1893.0" stroke="#000" stroke-width="1.5" />
<line x1="1689.6" y1="1886.0" x2="1698.8" y2="1886.0" stroke="#000" stroke-width="1.5" />
<line x1="1896.5" y1="1928.3" x2="1896.5" y2="1942.4" stroke="#000" stroke-width="1.5" />
<line x1="1891.9" y1="1928.3" x2="1901.1" y2="1928.3" stroke="#000" stroke-width="1.5" />
<line x1="1982.1" y1="1744.0" x2="1982.1" y2="1749.5" stroke="#000" stroke-width="1.5" />
<line x1="1977.5" y1="1744.0" x2="1986.7" y2="1744.0" stroke="#000" stroke-width="1.5" />
<line x1="2005.9" y1="1708.7" x2="2005.9" y2="1720.5" stroke="#000" stroke-width="1.5" />
<line x1="2001.3" y1="1708.7" x2="2010.5" y2="1708.7" stroke="#000" stroke-width="1.5" />
<line x1="2029.1" y1="1729.2" x2="2029.1" y2="1747.3" stroke="#000" stroke-width="1.5" />
<line x1="2024.5" y1="1729.2" x2="2033.7" y2="1729.2" stroke="#000" stroke-width="1.5" />
<line x1="2052.9" y1="1727.7" x2="2052.9" y2="1745.1" stroke="#000" stroke-width="1.5" />
<line x1="2048.3" y1="1727.7" x2="2057.5" y2="1727.7" stroke="#000" stroke-width="1.5" />
<line x1="2076.0" y1="1711.3" x2="2076.0" y2="1728.2" stroke="#000" stroke-width="1.5" />
<line x1="2071.4" y1="1711.3" x2="2080.6" y2="1711.3" stroke="#000" stroke-width="1.5" />
<line x1="2099.2" y1="1619.4" x2="2099.2" y2="1650.4" stroke="#000" stroke-width="1.5" />
<line x1="2094.6" y1="1619.4" x2="2103.8" y2="1619.4" stroke="#000" stroke-width="1.5" />
<circle cx="1572.4" cy="1960.2" r="4.7" fill="#000"/>
<circle cx="1577.6" cy="1956.8" r="4.7" fill="#000"/>
<circle cx="1582.6" cy="1959.5" r="4.7" fill="#000"/>
<circle cx="1595.7" cy="1962.5" r="4.7" fill="#000"/>
<circle cx="1600.9" cy="1955.7" r="4.7" fill="#000"/>
<circle cx="1605.9" cy="1959.5" r="4.7" fill="#000"/>
<circle cx="1619.0" cy="1960.2" r="4.7" fill="#000"/>
<circle cx="1624.2" cy="1959.5" r="4.7" fill="#000"/>
<circle cx="1629.2" cy="1958.4" r="4.7" fill="#000"/>
<circle cx="1642.4" cy="1960.2" r="4.7" fill="#000"/>
<circle cx="1647.6" cy="1959.1" r="4.7" fill="#000"/>
<circle cx="1652.6" cy="1959.7" r="4.7" fill="#000"/>
<circle cx="1665.7" cy="1960.0" r="4.7" fill="#000"/>
<circle cx="1670.9" cy="1956.8" r="4.7" fill="#000"/>
<circle cx="1675.9" cy="1955.7" r="4.7" fill="#000"/>
<circle cx="1689.4" cy="1886.6" r="4.7" fill="#000"/>
<circle cx="1699.6" cy="1886.6" r="4.7" fill="#000"/>
<circle cx="1694.4" cy="1900.3" r="4.7" fill="#000"/>
<circle cx="1712.4" cy="1954.1" r="4.7" fill="#000"/>
<circle cx="1717.6" cy="1950.6" r="4.7" fill="#000"/>
<circle cx="1722.4" cy="1954.5" r="4.7" fill="#000"/>
<circle cx="1735.6" cy="1959.1" r="4.7" fill="#000"/>
<circle cx="1740.8" cy="1959.1" r="4.7" fill="#000"/>
<circle cx="1745.8" cy="1959.1" r="4.7" fill="#000"/>
<circle cx="1774.4" cy="1962.5" r="4.7" fill="#000"/>
<circle cx="1779.6" cy="1956.8" r="4.7" fill="#000"/>
<circle cx="1784.6" cy="1959.5" r="4.7" fill="#000"/>
<circle cx="1797.8" cy="1960.2" r="4.7" fill="#000"/>
<circle cx="1803.0" cy="1959.5" r="4.7" fill="#000"/>
<circle cx="1808.0" cy="1958.4" r="4.7" fill="#000"/>
<circle cx="1821.2" cy="1960.2" r="4.7" fill="#000"/>
<circle cx="1826.4" cy="1956.8" r="4.7" fill="#000"/>
<circle cx="1831.4" cy="1960.2" r="4.7" fill="#000"/>
<circle cx="1844.5" cy="1960.2" r="4.7" fill="#000"/>
<circle cx="1849.7" cy="1957.2" r="4.7" fill="#000"/>
<circle cx="1854.7" cy="1959.1" r="4.7" fill="#000"/>
<circle cx="1867.9" cy="1960.2" r="4.7" fill="#000"/>
<circle cx="1873.1" cy="1956.8" r="4.7" fill="#000"/>
<circle cx="1878.1" cy="1960.2" r="4.7" fill="#000"/>
<circle cx="1896.6" cy="1923.1" r="4.7" fill="#000"/>
<circle cx="1891.6" cy="1940.2" r="4.7" fill="#000"/>
<circle cx="1901.6" cy="1937.9" r="4.7" fill="#000"/>
<circle cx="1914.7" cy="1960.2" r="4.7" fill="#000"/>
<circle cx="1919.9" cy="1952.2" r="4.7" fill="#000"/>
<circle cx="1924.9" cy="1953.8" r="4.7" fill="#000"/>
<circle cx="1938.1" cy="1960.2" r="4.7" fill="#000"/>
<circle cx="1943.3" cy="1956.8" r="4.7" fill="#000"/>
<circle cx="1948.3" cy="1959.1" r="4.7" fill="#000"/>
<circle cx="1977.5" cy="1744.2" r="4.7" fill="#000"/>
<circle cx="1986.9" cy="1744.0" r="4.7" fill="#000"/>
<circle cx="1982.3" cy="1755.6" r="4.7" fill="#000"/>
<circle cx="2005.9" cy="1708.7" r="4.7" fill="#000"/>
<circle cx="2001.0" cy="1727.0" r="4.7" fill="#000"/>
<circle cx="2010.9" cy="1723.5" r="4.7" fill="#000"/>
<circle cx="2028.9" cy="1729.2" r="4.7" fill="#000"/>
<circle cx="2024.2" cy="1755.8" r="4.7" fill="#000"/>
<circle cx="2034.0" cy="1752.8" r="4.7" fill="#000"/>
<circle cx="2052.5" cy="1727.7" r="4.7" fill="#000"/>
<circle cx="2052.5" cy="1747.8" r="4.7" fill="#000"/>
<circle cx="2052.5" cy="1755.8" r="4.7" fill="#000"/>
<circle cx="2075.5" cy="1711.3" r="4.7" fill="#000"/>
<circle cx="2071.0" cy="1734.0" r="4.7" fill="#000"/>
<circle cx="2080.5" cy="1734.0" r="4.7" fill="#000"/>
<circle cx="2099.2" cy="1619.4" r="4.7" fill="#000"/>
<circle cx="2099.2" cy="1656.5" r="4.7" fill="#000"/>
<circle cx="2099.2" cy="1670.9" r="4.7" fill="#000"/>
<circle cx="2117.5" cy="1660.0" r="4.7" fill="#000"/>
<circle cx="2122.6" cy="1657.6" r="4.7" fill="#000"/>
<circle cx="2127.6" cy="1658.5" r="4.7" fill="#000"/>
<circle cx="2138.0" cy="1960.0" r="4.7" fill="#000"/>
<circle cx="2146.0" cy="1956.0" r="4.7" fill="#000"/>
<circle cx="2153.0" cy="1959.0" r="4.7" fill="#000"/>
<text x="1583.0" y="1987.0" font-size="23" text-anchor="end" textLength="83.0" lengthAdjust="spacingAndGlyphs" transform="rotate(-90 1583.0 1987.0)">ABE7.10</text>
<text x="1606.3" y="1987.0" font-size="23" text-anchor="end" textLength="121.9" lengthAdjust="spacingAndGlyphs" transform="rotate(-90 1606.3 1987.0)">ABE7.10-HK</text>
<text x="1629.6" y="1987.0" font-size="23" text-anchor="end" textLength="135.9" lengthAdjust="spacingAndGlyphs" transform="rotate(-90 1629.6 1987.0)">ABE7.10-HSK</text>
<text x="1653.0" y="1987.0" font-size="23" text-anchor="end" textLength="152.6" lengthAdjust="spacingAndGlyphs" transform="rotate(-90 1653.0 1987.0)">ABE7.10-HHSK</text>
<text x="1676.3" y="1987.0" font-size="23" text-anchor="end" textLength="166.9" lengthAdjust="spacingAndGlyphs" transform="rotate(-90 1676.3 1987.0)">ABE7.10-HRHSK</text>
<text x="1699.6" y="1987.0" font-size="23" text-anchor="end" textLength="66.0" lengthAdjust="spacingAndGlyphs" transform="rotate(-90 1699.6 1987.0)">ABE8e</text>
<text x="1722.9" y="1987.0" font-size="23" text-anchor="end" textLength="87.7" lengthAdjust="spacingAndGlyphs" transform="rotate(-90 1722.9 1987.0)">ABE8.20</text>
<text x="1746.2" y="1987.0" font-size="23" text-anchor="end" textLength="26.4" lengthAdjust="spacingAndGlyphs" transform="rotate(-90 1746.2 1987.0)">NT</text>
<text x="1785.0" y="1987.0" font-size="23" text-anchor="end" textLength="83.0" lengthAdjust="spacingAndGlyphs" transform="rotate(-90 1785.0 1987.0)">ABE7.10</text>
<text x="1808.4" y="1987.0" font-size="23" text-anchor="end" textLength="121.9" lengthAdjust="spacingAndGlyphs" transform="rotate(-90 1808.4 1987.0)">ABE7.10-HK</text>
<text x="1831.8" y="1987.0" font-size="23" text-anchor="end" textLength="135.9" lengthAdjust="spacingAndGlyphs" transform="rotate(-90 1831.8 1987.0)">ABE7.10-HSK</text>
<text x="1855.1" y="1987.0" font-size="23" text-anchor="end" textLength="152.6" lengthAdjust="spacingAndGlyphs" transform="rotate(-90 1855.1 1987.0)">ABE7.10-HHSK</text>
<text x="1878.5" y="1987.0" font-size="23" text-anchor="end" textLength="166.9" lengthAdjust="spacingAndGlyphs" transform="rotate(-90 1878.5 1987.0)">ABE7.10-HRHSK</text>
<text x="1901.9" y="1987.0" font-size="23" text-anchor="end" textLength="66.0" lengthAdjust="spacingAndGlyphs" transform="rotate(-90 1901.9 1987.0)">ABE8e</text>
<text x="1925.3" y="1987.0" font-size="23" text-anchor="end" textLength="87.7" lengthAdjust="spacingAndGlyphs" transform="rotate(-90 1925.3 1987.0)">ABE8.20</text>
<text x="1948.7" y="1987.0" font-size="23" text-anchor="end" textLength="26.4" lengthAdjust="spacingAndGlyphs" transform="rotate(-90 1948.7 1987.0)">NT</text>
<text x="1987.5" y="1987.0" font-size="23" text-anchor="end" textLength="83.0" lengthAdjust="spacingAndGlyphs" transform="rotate(-90 1987.5 1987.0)">ABE7.10</text>
<text x="2011.3" y="1987.0" font-size="23" text-anchor="end" textLength="121.9" lengthAdjust="spacingAndGlyphs" transform="rotate(-90 2011.3 1987.0)">ABE7.10-HK</text>
<text x="2034.5" y="1987.0" font-size="23" text-anchor="end" textLength="135.9" lengthAdjust="spacingAndGlyphs" transform="rotate(-90 2034.5 1987.0)">ABE7.10-HSK</text>
<text x="2058.3" y="1987.0" font-size="23" text-anchor="end" textLength="152.6" lengthAdjust="spacingAndGlyphs" transform="rotate(-90 2058.3 1987.0)">ABE7.10-HHSK</text>
<text x="2081.4" y="1987.0" font-size="23" text-anchor="end" textLength="166.9" lengthAdjust="spacingAndGlyphs" transform="rotate(-90 2081.4 1987.0)">ABE7.10-HRHSK</text>
<text x="2104.6" y="1987.0" font-size="23" text-anchor="end" textLength="66.0" lengthAdjust="spacingAndGlyphs" transform="rotate(-90 2104.6 1987.0)">ABE8e</text>
<text x="2127.9" y="1987.0" font-size="23" text-anchor="end" textLength="87.7" lengthAdjust="spacingAndGlyphs" transform="rotate(-90 2127.9 1987.0)">ABE8.20</text>
<text x="2151.2" y="1987.0" font-size="23" text-anchor="end" textLength="26.4" lengthAdjust="spacingAndGlyphs" transform="rotate(-90 2151.2 1987.0)">NT</text>
<rect x="1599.3" y="1534.0" width="30.0" height="17.8" fill="#d4d4d4" stroke="#222" stroke-width="1.3" />
<rect x="1599.3" y="1534.0" width="30.0" height="17.8" fill="url(#h1)" stroke="#222" stroke-width="1.3" />
<text x="1639.2" y="1553.5" font-size="27.2" textLength="72.0" lengthAdjust="spacingAndGlyphs">Off-T1</text>
<rect x="1599.3" y="1584.6" width="30.0" height="17.6" fill="#d4d4d4" stroke="#222" stroke-width="1.3" />
<rect x="1599.3" y="1584.6" width="30.0" height="17.6" fill="url(#h2)" stroke="#222" stroke-width="1.3" />
<text x="1639.2" y="1604.9" font-size="27.2" textLength="77.0" lengthAdjust="spacingAndGlyphs">Off-T2</text>
<rect x="1599.3" y="1636.0" width="30.0" height="18.2" fill="#d4d4d4" stroke="#222" stroke-width="1.3" />
<text x="1639.2" y="1655.1" font-size="27.2" textLength="35.0" lengthAdjust="spacingAndGlyphs">On</text>
</svg></body></html>
